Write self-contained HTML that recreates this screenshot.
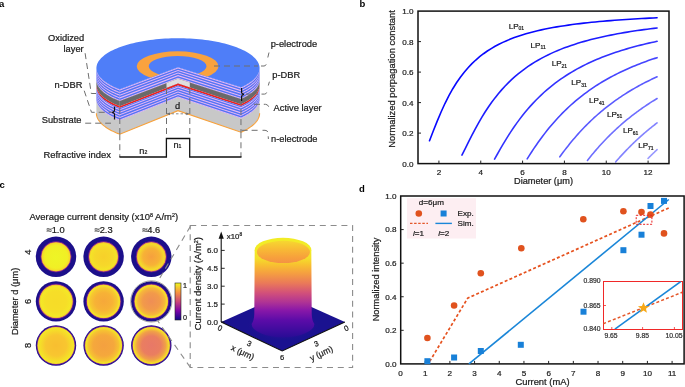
<!DOCTYPE html>
<html><head><meta charset="utf-8"><style>
html,body{margin:0;padding:0;background:#fff;}
body{width:685px;height:387px;overflow:hidden;}
svg{display:block;font-family:"Liberation Sans", sans-serif;will-change:transform;}
</style></head><body>
<svg width="685" height="387" viewBox="0 0 685 387">
<g id="panelA">
<path d="M240.96,87.28 L241.85,86.88 L242.72,86.47 L243.56,86.06 L244.39,85.64 L245.2,85.22 L245.99,84.79 L246.75,84.36 L247.5,83.92 L248.23,83.48 L248.93,83.03 L249.62,82.58 L250.28,82.12 L250.92,81.66 L251.54,81.2 L252.14,80.73 L252.72,80.26 L253.27,79.78 L253.8,79.3 L254.31,78.82 L254.8,78.34 L255.26,77.85 L255.7,77.36 L256.12,76.86 L256.52,76.37 L256.89,75.87 L257.24,75.37 L257.56,74.87 L257.86,74.36 L258.14,73.85 L258.39,73.34 L258.62,72.83 L258.83,72.32 L259.01,71.81 L259.16,71.3 L259.3,70.78 L259.41,70.27 L259.49,69.75 L259.55,69.23 L259.59,68.72 L259.6,68.2 L259.6,80 L259.59,80.52 L259.55,81.03 L259.49,81.55 L259.41,82.07 L259.3,82.58 L259.16,83.1 L259.01,83.61 L258.83,84.12 L258.62,84.63 L258.39,85.14 L258.14,85.65 L257.86,86.16 L257.56,86.67 L257.24,87.17 L256.89,87.67 L256.52,88.17 L256.12,88.66 L255.7,89.16 L255.26,89.65 L254.8,90.14 L254.31,90.62 L253.8,91.1 L253.27,91.58 L252.72,92.06 L252.14,92.53 L251.54,93 L250.92,93.46 L250.28,93.92 L249.62,94.38 L248.93,94.83 L248.23,95.28 L247.5,95.72 L246.75,96.16 L245.99,96.59 L245.2,97.02 L244.39,97.44 L243.56,97.86 L242.72,98.27 L241.85,98.68 L240.96,99.08 Z" fill="#5275f4"/>
<path d="M240.96,87.48 L241.85,87.08 L242.72,86.67 L243.56,86.26 L244.39,85.84 L245.2,85.42 L245.99,84.99 L246.75,84.56 L247.5,84.12 L248.23,83.68 L248.93,83.23 L249.62,82.78 L250.28,82.32 L250.92,81.86 L251.54,81.4 L252.14,80.93 L252.72,80.46 L253.27,79.98 L253.8,79.5 L254.31,79.02 L254.8,78.54 L255.26,78.05 L255.7,77.56 L256.12,77.06 L256.52,76.57 L256.89,76.07 L257.24,75.57 L257.56,75.07 L257.86,74.56 L258.14,74.05 L258.39,73.54 L258.62,73.03 L258.83,72.52 L259.01,72.01 L259.16,71.5 L259.3,70.98 L259.41,70.47 L259.49,69.95 L259.55,69.43 L259.59,68.92 L259.6,68.4 L259.6,69.45 L259.59,69.97 L259.55,70.48 L259.49,71 L259.41,71.52 L259.3,72.03 L259.16,72.55 L259.01,73.06 L258.83,73.57 L258.62,74.08 L258.39,74.59 L258.14,75.1 L257.86,75.61 L257.56,76.12 L257.24,76.62 L256.89,77.12 L256.52,77.62 L256.12,78.11 L255.7,78.61 L255.26,79.1 L254.8,79.59 L254.31,80.07 L253.8,80.55 L253.27,81.03 L252.72,81.51 L252.14,81.98 L251.54,82.45 L250.92,82.91 L250.28,83.37 L249.62,83.83 L248.93,84.28 L248.23,84.73 L247.5,85.17 L246.75,85.61 L245.99,86.04 L245.2,86.47 L244.39,86.89 L243.56,87.31 L242.72,87.72 L241.85,88.13 L240.96,88.53 Z" fill="#ecb8f4"/>
<path d="M240.96,90.12 L241.85,89.72 L242.72,89.31 L243.56,88.9 L244.39,88.48 L245.2,88.06 L245.99,87.63 L246.75,87.2 L247.5,86.76 L248.23,86.31 L248.93,85.87 L249.62,85.42 L250.28,84.96 L250.92,84.5 L251.54,84.04 L252.14,83.57 L252.72,83.1 L253.27,82.62 L253.8,82.14 L254.31,81.66 L254.8,81.18 L255.26,80.69 L255.7,80.2 L256.12,79.7 L256.52,79.21 L256.89,78.71 L257.24,78.21 L257.56,77.7 L257.86,77.2 L258.14,76.69 L258.39,76.18 L258.62,75.67 L258.83,75.16 L259.01,74.65 L259.16,74.13 L259.3,73.62 L259.41,73.1 L259.49,72.59 L259.55,72.07 L259.59,71.55 L259.6,71.04 L259.6,72.09 L259.59,72.6 L259.55,73.12 L259.49,73.64 L259.41,74.15 L259.3,74.67 L259.16,75.18 L259.01,75.7 L258.83,76.21 L258.62,76.72 L258.39,77.23 L258.14,77.74 L257.86,78.25 L257.56,78.75 L257.24,79.26 L256.89,79.76 L256.52,80.26 L256.12,80.75 L255.7,81.25 L255.26,81.74 L254.8,82.23 L254.31,82.71 L253.8,83.19 L253.27,83.67 L252.72,84.15 L252.14,84.62 L251.54,85.09 L250.92,85.55 L250.28,86.01 L249.62,86.47 L248.93,86.92 L248.23,87.36 L247.5,87.81 L246.75,88.25 L245.99,88.68 L245.2,89.11 L244.39,89.53 L243.56,89.95 L242.72,90.36 L241.85,90.77 L240.96,91.17 Z" fill="#ecb8f4"/>
<path d="M240.96,92.76 L241.85,92.36 L242.72,91.95 L243.56,91.54 L244.39,91.12 L245.2,90.69 L245.99,90.27 L246.75,89.83 L247.5,89.39 L248.23,88.95 L248.93,88.5 L249.62,88.05 L250.28,87.6 L250.92,87.14 L251.54,86.67 L252.14,86.21 L252.72,85.73 L253.27,85.26 L253.8,84.78 L254.31,84.3 L254.8,83.81 L255.26,83.32 L255.7,82.83 L256.12,82.34 L256.52,81.84 L256.89,81.34 L257.24,80.84 L257.56,80.34 L257.86,79.84 L258.14,79.33 L258.39,78.82 L258.62,78.31 L258.83,77.8 L259.01,77.29 L259.16,76.77 L259.3,76.26 L259.41,75.74 L259.49,75.23 L259.55,74.71 L259.59,74.19 L259.6,73.67 L259.6,74.73 L259.59,75.24 L259.55,75.76 L259.49,76.28 L259.41,76.79 L259.3,77.31 L259.16,77.82 L259.01,78.34 L258.83,78.85 L258.62,79.36 L258.39,79.87 L258.14,80.38 L257.86,80.89 L257.56,81.39 L257.24,81.89 L256.89,82.39 L256.52,82.89 L256.12,83.39 L255.7,83.88 L255.26,84.37 L254.8,84.86 L254.31,85.35 L253.8,85.83 L253.27,86.31 L252.72,86.78 L252.14,87.26 L251.54,87.72 L250.92,88.19 L250.28,88.65 L249.62,89.1 L248.93,89.55 L248.23,90 L247.5,90.44 L246.75,90.88 L245.99,91.32 L245.2,91.74 L244.39,92.17 L243.56,92.59 L242.72,93 L241.85,93.41 L240.96,93.81 Z" fill="#ecb8f4"/>
<path d="M240.96,95.39 L241.85,94.99 L242.72,94.59 L243.56,94.17 L244.39,93.75 L245.2,93.33 L245.99,92.9 L246.75,92.47 L247.5,92.03 L248.23,91.59 L248.93,91.14 L249.62,90.69 L250.28,90.23 L250.92,89.77 L251.54,89.31 L252.14,88.84 L252.72,88.37 L253.27,87.9 L253.8,87.42 L254.31,86.94 L254.8,86.45 L255.26,85.96 L255.7,85.47 L256.12,84.98 L256.52,84.48 L256.89,83.98 L257.24,83.48 L257.56,82.98 L257.86,82.47 L258.14,81.97 L258.39,81.46 L258.62,80.95 L258.83,80.44 L259.01,79.92 L259.16,79.41 L259.3,78.89 L259.41,78.38 L259.49,77.86 L259.55,77.35 L259.59,76.83 L259.6,76.31 L259.6,77.36 L259.59,77.88 L259.55,78.4 L259.49,78.91 L259.41,79.43 L259.3,79.94 L259.16,80.46 L259.01,80.97 L258.83,81.49 L258.62,82 L258.39,82.51 L258.14,83.02 L257.86,83.52 L257.56,84.03 L257.24,84.53 L256.89,85.03 L256.52,85.53 L256.12,86.03 L255.7,86.52 L255.26,87.01 L254.8,87.5 L254.31,87.99 L253.8,88.47 L253.27,88.95 L252.72,89.42 L252.14,89.89 L251.54,90.36 L250.92,90.82 L250.28,91.28 L249.62,91.74 L248.93,92.19 L248.23,92.64 L247.5,93.08 L246.75,93.52 L245.99,93.95 L245.2,94.38 L244.39,94.8 L243.56,95.22 L242.72,95.64 L241.85,96.04 L240.96,96.44 Z" fill="#ecb8f4"/>
<path d="M240.96,98.03 L241.85,97.63 L242.72,97.22 L243.56,96.81 L244.39,96.39 L245.2,95.97 L245.99,95.54 L246.75,95.11 L247.5,94.67 L248.23,94.23 L248.93,93.78 L249.62,93.33 L250.28,92.87 L250.92,92.41 L251.54,91.95 L252.14,91.48 L252.72,91.01 L253.27,90.53 L253.8,90.05 L254.31,89.57 L254.8,89.09 L255.26,88.6 L255.7,88.11 L256.12,87.61 L256.52,87.12 L256.89,86.62 L257.24,86.12 L257.56,85.62 L257.86,85.11 L258.14,84.6 L258.39,84.09 L258.62,83.58 L258.83,83.07 L259.01,82.56 L259.16,82.05 L259.3,81.53 L259.41,81.02 L259.49,80.5 L259.55,79.98 L259.59,79.47 L259.6,78.95 L259.6,80 L259.59,80.52 L259.55,81.03 L259.49,81.55 L259.41,82.07 L259.3,82.58 L259.16,83.1 L259.01,83.61 L258.83,84.12 L258.62,84.63 L258.39,85.14 L258.14,85.65 L257.86,86.16 L257.56,86.67 L257.24,87.17 L256.89,87.67 L256.52,88.17 L256.12,88.66 L255.7,89.16 L255.26,89.65 L254.8,90.14 L254.31,90.62 L253.8,91.1 L253.27,91.58 L252.72,92.06 L252.14,92.53 L251.54,93 L250.92,93.46 L250.28,93.92 L249.62,94.38 L248.93,94.83 L248.23,95.28 L247.5,95.72 L246.75,96.16 L245.99,96.59 L245.2,97.02 L244.39,97.44 L243.56,97.86 L242.72,98.27 L241.85,98.68 L240.96,99.08 Z" fill="#ecb8f4"/>
<path d="M240.96,99.08 L241.85,98.68 L242.72,98.27 L243.56,97.86 L244.39,97.44 L245.2,97.02 L245.99,96.59 L246.75,96.16 L247.5,95.72 L248.23,95.28 L248.93,94.83 L249.62,94.38 L250.28,93.92 L250.92,93.46 L251.54,93 L252.14,92.53 L252.72,92.06 L253.27,91.58 L253.8,91.1 L254.31,90.62 L254.8,90.14 L255.26,89.65 L255.7,89.16 L256.12,88.66 L256.52,88.17 L256.89,87.67 L257.24,87.17 L257.56,86.67 L257.86,86.16 L258.14,85.65 L258.39,85.14 L258.62,84.63 L258.83,84.12 L259.01,83.61 L259.16,83.1 L259.3,82.58 L259.41,82.07 L259.49,81.55 L259.55,81.03 L259.59,80.52 L259.6,80 L259.6,85.1 L259.59,85.62 L259.55,86.13 L259.49,86.65 L259.41,87.17 L259.3,87.68 L259.16,88.2 L259.01,88.71 L258.83,89.22 L258.62,89.73 L258.39,90.24 L258.14,90.75 L257.86,91.26 L257.56,91.77 L257.24,92.27 L256.89,92.77 L256.52,93.27 L256.12,93.76 L255.7,94.26 L255.26,94.75 L254.8,95.24 L254.31,95.72 L253.8,96.2 L253.27,96.68 L252.72,97.16 L252.14,97.63 L251.54,98.1 L250.92,98.56 L250.28,99.02 L249.62,99.48 L248.93,99.93 L248.23,100.38 L247.5,100.82 L246.75,101.26 L245.99,101.69 L245.2,102.12 L244.39,102.54 L243.56,102.96 L242.72,103.37 L241.85,103.78 L240.96,104.18 Z" fill="#6a6a6a"/>
<path d="M240.96,104.18 L241.85,103.78 L242.72,103.37 L243.56,102.96 L244.39,102.54 L245.2,102.12 L245.99,101.69 L246.75,101.26 L247.5,100.82 L248.23,100.38 L248.93,99.93 L249.62,99.48 L250.28,99.02 L250.92,98.56 L251.54,98.1 L252.14,97.63 L252.72,97.16 L253.27,96.68 L253.8,96.2 L254.31,95.72 L254.8,95.24 L255.26,94.75 L255.7,94.26 L256.12,93.76 L256.52,93.27 L256.89,92.77 L257.24,92.27 L257.56,91.77 L257.86,91.26 L258.14,90.75 L258.39,90.24 L258.62,89.73 L258.83,89.22 L259.01,88.71 L259.16,88.2 L259.3,87.68 L259.41,87.17 L259.49,86.65 L259.55,86.13 L259.59,85.62 L259.6,85.1 L259.6,87 L259.59,87.52 L259.55,88.03 L259.49,88.55 L259.41,89.07 L259.3,89.58 L259.16,90.1 L259.01,90.61 L258.83,91.12 L258.62,91.63 L258.39,92.14 L258.14,92.65 L257.86,93.16 L257.56,93.67 L257.24,94.17 L256.89,94.67 L256.52,95.17 L256.12,95.66 L255.7,96.16 L255.26,96.65 L254.8,97.14 L254.31,97.62 L253.8,98.1 L253.27,98.58 L252.72,99.06 L252.14,99.53 L251.54,100 L250.92,100.46 L250.28,100.92 L249.62,101.38 L248.93,101.83 L248.23,102.28 L247.5,102.72 L246.75,103.16 L245.99,103.59 L245.2,104.02 L244.39,104.44 L243.56,104.86 L242.72,105.27 L241.85,105.68 L240.96,106.08 Z" fill="#e82222"/>
<path d="M240.96,106.08 L241.85,105.68 L242.72,105.27 L243.56,104.86 L244.39,104.44 L245.2,104.02 L245.99,103.59 L246.75,103.16 L247.5,102.72 L248.23,102.28 L248.93,101.83 L249.62,101.38 L250.28,100.92 L250.92,100.46 L251.54,100 L252.14,99.53 L252.72,99.06 L253.27,98.58 L253.8,98.1 L254.31,97.62 L254.8,97.14 L255.26,96.65 L255.7,96.16 L256.12,95.66 L256.52,95.17 L256.89,94.67 L257.24,94.17 L257.56,93.67 L257.86,93.16 L258.14,92.65 L258.39,92.14 L258.62,91.63 L258.83,91.12 L259.01,90.61 L259.16,90.1 L259.3,89.58 L259.41,89.07 L259.49,88.55 L259.55,88.03 L259.59,87.52 L259.6,87 L259.6,99.5 L259.59,100.02 L259.55,100.53 L259.49,101.05 L259.41,101.57 L259.3,102.08 L259.16,102.6 L259.01,103.11 L258.83,103.62 L258.62,104.13 L258.39,104.64 L258.14,105.15 L257.86,105.66 L257.56,106.17 L257.24,106.67 L256.89,107.17 L256.52,107.67 L256.12,108.16 L255.7,108.66 L255.26,109.15 L254.8,109.64 L254.31,110.12 L253.8,110.6 L253.27,111.08 L252.72,111.56 L252.14,112.03 L251.54,112.5 L250.92,112.96 L250.28,113.42 L249.62,113.88 L248.93,114.33 L248.23,114.78 L247.5,115.22 L246.75,115.66 L245.99,116.09 L245.2,116.52 L244.39,116.94 L243.56,117.36 L242.72,117.77 L241.85,118.18 L240.96,118.58 Z" fill="#5275f4"/>
<path d="M240.96,107.18 L241.85,106.78 L242.72,106.37 L243.56,105.96 L244.39,105.54 L245.2,105.12 L245.99,104.69 L246.75,104.26 L247.5,103.82 L248.23,103.38 L248.93,102.93 L249.62,102.48 L250.28,102.02 L250.92,101.56 L251.54,101.1 L252.14,100.63 L252.72,100.16 L253.27,99.68 L253.8,99.2 L254.31,98.72 L254.8,98.24 L255.26,97.75 L255.7,97.26 L256.12,96.76 L256.52,96.27 L256.89,95.77 L257.24,95.27 L257.56,94.77 L257.86,94.26 L258.14,93.75 L258.39,93.24 L258.62,92.73 L258.83,92.22 L259.01,91.71 L259.16,91.2 L259.3,90.68 L259.41,90.17 L259.49,89.65 L259.55,89.13 L259.59,88.62 L259.6,88.1 L259.6,89.15 L259.59,89.67 L259.55,90.18 L259.49,90.7 L259.41,91.22 L259.3,91.73 L259.16,92.25 L259.01,92.76 L258.83,93.27 L258.62,93.78 L258.39,94.29 L258.14,94.8 L257.86,95.31 L257.56,95.82 L257.24,96.32 L256.89,96.82 L256.52,97.32 L256.12,97.81 L255.7,98.31 L255.26,98.8 L254.8,99.29 L254.31,99.77 L253.8,100.25 L253.27,100.73 L252.72,101.21 L252.14,101.68 L251.54,102.15 L250.92,102.61 L250.28,103.07 L249.62,103.53 L248.93,103.98 L248.23,104.43 L247.5,104.87 L246.75,105.31 L245.99,105.74 L245.2,106.17 L244.39,106.59 L243.56,107.01 L242.72,107.42 L241.85,107.83 L240.96,108.23 Z" fill="#ecb8f4"/>
<path d="M240.96,109.77 L241.85,109.37 L242.72,108.96 L243.56,108.55 L244.39,108.13 L245.2,107.71 L245.99,107.28 L246.75,106.85 L247.5,106.41 L248.23,105.96 L248.93,105.52 L249.62,105.07 L250.28,104.61 L250.92,104.15 L251.54,103.69 L252.14,103.22 L252.72,102.75 L253.27,102.27 L253.8,101.79 L254.31,101.31 L254.8,100.83 L255.26,100.34 L255.7,99.85 L256.12,99.35 L256.52,98.86 L256.89,98.36 L257.24,97.86 L257.56,97.35 L257.86,96.85 L258.14,96.34 L258.39,95.83 L258.62,95.32 L258.83,94.81 L259.01,94.3 L259.16,93.78 L259.3,93.27 L259.41,92.75 L259.49,92.24 L259.55,91.72 L259.59,91.2 L259.6,90.69 L259.6,91.74 L259.59,92.25 L259.55,92.77 L259.49,93.29 L259.41,93.8 L259.3,94.32 L259.16,94.83 L259.01,95.35 L258.83,95.86 L258.62,96.37 L258.39,96.88 L258.14,97.39 L257.86,97.9 L257.56,98.4 L257.24,98.91 L256.89,99.41 L256.52,99.91 L256.12,100.4 L255.7,100.9 L255.26,101.39 L254.8,101.88 L254.31,102.36 L253.8,102.84 L253.27,103.32 L252.72,103.8 L252.14,104.27 L251.54,104.74 L250.92,105.2 L250.28,105.66 L249.62,106.12 L248.93,106.57 L248.23,107.01 L247.5,107.46 L246.75,107.9 L245.99,108.33 L245.2,108.76 L244.39,109.18 L243.56,109.6 L242.72,110.01 L241.85,110.42 L240.96,110.82 Z" fill="#ecb8f4"/>
<path d="M240.96,112.36 L241.85,111.96 L242.72,111.55 L243.56,111.14 L244.39,110.72 L245.2,110.29 L245.99,109.87 L246.75,109.43 L247.5,108.99 L248.23,108.55 L248.93,108.1 L249.62,107.65 L250.28,107.2 L250.92,106.74 L251.54,106.27 L252.14,105.81 L252.72,105.33 L253.27,104.86 L253.8,104.38 L254.31,103.9 L254.8,103.41 L255.26,102.92 L255.7,102.43 L256.12,101.94 L256.52,101.44 L256.89,100.94 L257.24,100.44 L257.56,99.94 L257.86,99.44 L258.14,98.93 L258.39,98.42 L258.62,97.91 L258.83,97.4 L259.01,96.89 L259.16,96.37 L259.3,95.86 L259.41,95.34 L259.49,94.83 L259.55,94.31 L259.59,93.79 L259.6,93.28 L259.6,94.33 L259.59,94.84 L259.55,95.36 L259.49,95.88 L259.41,96.39 L259.3,96.91 L259.16,97.42 L259.01,97.94 L258.83,98.45 L258.62,98.96 L258.39,99.47 L258.14,99.98 L257.86,100.49 L257.56,100.99 L257.24,101.49 L256.89,101.99 L256.52,102.49 L256.12,102.99 L255.7,103.48 L255.26,103.97 L254.8,104.46 L254.31,104.95 L253.8,105.43 L253.27,105.91 L252.72,106.38 L252.14,106.86 L251.54,107.32 L250.92,107.79 L250.28,108.25 L249.62,108.7 L248.93,109.15 L248.23,109.6 L247.5,110.04 L246.75,110.48 L245.99,110.92 L245.2,111.34 L244.39,111.77 L243.56,112.19 L242.72,112.6 L241.85,113.01 L240.96,113.41 Z" fill="#ecb8f4"/>
<path d="M240.96,114.94 L241.85,114.54 L242.72,114.14 L243.56,113.72 L244.39,113.3 L245.2,112.88 L245.99,112.45 L246.75,112.02 L247.5,111.58 L248.23,111.14 L248.93,110.69 L249.62,110.24 L250.28,109.78 L250.92,109.32 L251.54,108.86 L252.14,108.39 L252.72,107.92 L253.27,107.45 L253.8,106.97 L254.31,106.49 L254.8,106 L255.26,105.51 L255.7,105.02 L256.12,104.53 L256.52,104.03 L256.89,103.53 L257.24,103.03 L257.56,102.53 L257.86,102.02 L258.14,101.52 L258.39,101.01 L258.62,100.5 L258.83,99.99 L259.01,99.47 L259.16,98.96 L259.3,98.44 L259.41,97.93 L259.49,97.41 L259.55,96.9 L259.59,96.38 L259.6,95.86 L259.6,96.91 L259.59,97.43 L259.55,97.95 L259.49,98.46 L259.41,98.98 L259.3,99.49 L259.16,100.01 L259.01,100.52 L258.83,101.04 L258.62,101.55 L258.39,102.06 L258.14,102.57 L257.86,103.07 L257.56,103.58 L257.24,104.08 L256.89,104.58 L256.52,105.08 L256.12,105.58 L255.7,106.07 L255.26,106.56 L254.8,107.05 L254.31,107.54 L253.8,108.02 L253.27,108.5 L252.72,108.97 L252.14,109.44 L251.54,109.91 L250.92,110.37 L250.28,110.83 L249.62,111.29 L248.93,111.74 L248.23,112.19 L247.5,112.63 L246.75,113.07 L245.99,113.5 L245.2,113.93 L244.39,114.35 L243.56,114.77 L242.72,115.19 L241.85,115.59 L240.96,115.99 Z" fill="#ecb8f4"/>
<path d="M240.96,117.53 L241.85,117.13 L242.72,116.72 L243.56,116.31 L244.39,115.89 L245.2,115.47 L245.99,115.04 L246.75,114.61 L247.5,114.17 L248.23,113.73 L248.93,113.28 L249.62,112.83 L250.28,112.37 L250.92,111.91 L251.54,111.45 L252.14,110.98 L252.72,110.51 L253.27,110.03 L253.8,109.55 L254.31,109.07 L254.8,108.59 L255.26,108.1 L255.7,107.61 L256.12,107.11 L256.52,106.62 L256.89,106.12 L257.24,105.62 L257.56,105.12 L257.86,104.61 L258.14,104.1 L258.39,103.59 L258.62,103.08 L258.83,102.57 L259.01,102.06 L259.16,101.55 L259.3,101.03 L259.41,100.52 L259.49,100 L259.55,99.48 L259.59,98.97 L259.6,98.45 L259.6,99.5 L259.59,100.02 L259.55,100.53 L259.49,101.05 L259.41,101.57 L259.3,102.08 L259.16,102.6 L259.01,103.11 L258.83,103.62 L258.62,104.13 L258.39,104.64 L258.14,105.15 L257.86,105.66 L257.56,106.17 L257.24,106.67 L256.89,107.17 L256.52,107.67 L256.12,108.16 L255.7,108.66 L255.26,109.15 L254.8,109.64 L254.31,110.12 L253.8,110.6 L253.27,111.08 L252.72,111.56 L252.14,112.03 L251.54,112.5 L250.92,112.96 L250.28,113.42 L249.62,113.88 L248.93,114.33 L248.23,114.78 L247.5,115.22 L246.75,115.66 L245.99,116.09 L245.2,116.52 L244.39,116.94 L243.56,117.36 L242.72,117.77 L241.85,118.18 L240.96,118.58 Z" fill="#ecb8f4"/>
<path d="M240.96,118.58 L241.85,118.18 L242.72,117.77 L243.56,117.36 L244.39,116.94 L245.2,116.52 L245.99,116.09 L246.75,115.66 L247.5,115.22 L248.23,114.78 L248.93,114.33 L249.62,113.88 L250.28,113.42 L250.92,112.96 L251.54,112.5 L252.14,112.03 L252.72,111.56 L253.27,111.08 L253.8,110.6 L254.31,110.12 L254.8,109.64 L255.26,109.15 L255.7,108.66 L256.12,108.16 L256.52,107.67 L256.89,107.17 L257.24,106.67 L257.56,106.17 L257.86,105.66 L258.14,105.15 L258.39,104.64 L258.62,104.13 L258.83,103.62 L259.01,103.11 L259.16,102.6 L259.3,102.08 L259.41,101.57 L259.49,101.05 L259.55,100.53 L259.59,100.02 L259.6,99.5 L259.6,113.2 L259.59,113.72 L259.55,114.23 L259.49,114.75 L259.41,115.27 L259.3,115.78 L259.16,116.3 L259.01,116.81 L258.83,117.32 L258.62,117.83 L258.39,118.34 L258.14,118.85 L257.86,119.36 L257.56,119.87 L257.24,120.37 L256.89,120.87 L256.52,121.37 L256.12,121.86 L255.7,122.36 L255.26,122.85 L254.8,123.34 L254.31,123.82 L253.8,124.3 L253.27,124.78 L252.72,125.26 L252.14,125.73 L251.54,126.2 L250.92,126.66 L250.28,127.12 L249.62,127.58 L248.93,128.03 L248.23,128.48 L247.5,128.92 L246.75,129.36 L245.99,129.79 L245.2,130.22 L244.39,130.64 L243.56,131.06 L242.72,131.47 L241.85,131.88 L240.96,132.28 Z" fill="#c8c8c8"/>
<path d="M96.4,68.2 L96.42,68.78 L96.46,69.36 L96.54,69.95 L96.65,70.53 L96.78,71.11 L96.95,71.69 L97.15,72.26 L97.38,72.84 L97.64,73.42 L97.93,73.99 L98.25,74.56 L98.61,75.13 L98.99,75.69 L99.4,76.25 L99.84,76.81 L100.31,77.37 L100.81,77.92 L101.33,78.47 L101.89,79.02 L102.48,79.56 L103.09,80.1 L103.73,80.63 L104.4,81.16 L105.1,81.68 L105.83,82.2 L106.58,82.71 L107.36,83.22 L108.17,83.72 L109,84.21 L109.86,84.7 L110.74,85.19 L111.65,85.66 L112.59,86.13 L113.55,86.6 L114.53,87.05 L115.54,87.5 L116.57,87.95 L117.62,88.38 L118.7,88.81 L119.8,89.23 L119.8,101.03 L118.7,100.61 L117.62,100.18 L116.57,99.75 L115.54,99.3 L114.53,98.85 L113.55,98.4 L112.59,97.93 L111.65,97.46 L110.74,96.99 L109.86,96.5 L109,96.01 L108.17,95.52 L107.36,95.02 L106.58,94.51 L105.83,94 L105.1,93.48 L104.4,92.96 L103.73,92.43 L103.09,91.9 L102.48,91.36 L101.89,90.82 L101.33,90.27 L100.81,89.72 L100.31,89.17 L99.84,88.61 L99.4,88.05 L98.99,87.49 L98.61,86.93 L98.25,86.36 L97.93,85.79 L97.64,85.22 L97.38,84.64 L97.15,84.06 L96.95,83.49 L96.78,82.91 L96.65,82.33 L96.54,81.75 L96.46,81.16 L96.42,80.58 L96.4,80 Z" fill="#5275f4"/>
<path d="M96.4,68.4 L96.42,68.98 L96.46,69.56 L96.54,70.15 L96.65,70.73 L96.78,71.31 L96.95,71.89 L97.15,72.46 L97.38,73.04 L97.64,73.62 L97.93,74.19 L98.25,74.76 L98.61,75.33 L98.99,75.89 L99.4,76.45 L99.84,77.01 L100.31,77.57 L100.81,78.12 L101.33,78.67 L101.89,79.22 L102.48,79.76 L103.09,80.3 L103.73,80.83 L104.4,81.36 L105.1,81.88 L105.83,82.4 L106.58,82.91 L107.36,83.42 L108.17,83.92 L109,84.41 L109.86,84.9 L110.74,85.39 L111.65,85.86 L112.59,86.33 L113.55,86.8 L114.53,87.25 L115.54,87.7 L116.57,88.15 L117.62,88.58 L118.7,89.01 L119.8,89.43 L119.8,90.48 L118.7,90.06 L117.62,89.63 L116.57,89.2 L115.54,88.75 L114.53,88.3 L113.55,87.85 L112.59,87.38 L111.65,86.91 L110.74,86.44 L109.86,85.95 L109,85.46 L108.17,84.97 L107.36,84.47 L106.58,83.96 L105.83,83.45 L105.1,82.93 L104.4,82.41 L103.73,81.88 L103.09,81.35 L102.48,80.81 L101.89,80.27 L101.33,79.72 L100.81,79.17 L100.31,78.62 L99.84,78.06 L99.4,77.5 L98.99,76.94 L98.61,76.38 L98.25,75.81 L97.93,75.24 L97.64,74.67 L97.38,74.09 L97.15,73.51 L96.95,72.94 L96.78,72.36 L96.65,71.78 L96.54,71.2 L96.46,70.61 L96.42,70.03 L96.4,69.45 Z" fill="#ecb8f4"/>
<path d="M96.4,71.04 L96.42,71.62 L96.46,72.2 L96.54,72.78 L96.65,73.37 L96.78,73.95 L96.95,74.52 L97.15,75.1 L97.38,75.68 L97.64,76.25 L97.93,76.83 L98.25,77.4 L98.61,77.96 L98.99,78.53 L99.4,79.09 L99.84,79.65 L100.31,80.21 L100.81,80.76 L101.33,81.31 L101.89,81.86 L102.48,82.4 L103.09,82.93 L103.73,83.47 L104.4,83.99 L105.1,84.52 L105.83,85.03 L106.58,85.55 L107.36,86.05 L108.17,86.56 L109,87.05 L109.86,87.54 L110.74,88.02 L111.65,88.5 L112.59,88.97 L113.55,89.44 L114.53,89.89 L115.54,90.34 L116.57,90.78 L117.62,91.22 L118.7,91.65 L119.8,92.06 L119.8,93.11 L118.7,92.7 L117.62,92.27 L116.57,91.83 L115.54,91.39 L114.53,90.94 L113.55,90.49 L112.59,90.02 L111.65,89.55 L110.74,89.07 L109.86,88.59 L109,88.1 L108.17,87.61 L107.36,87.1 L106.58,86.6 L105.83,86.08 L105.1,85.57 L104.4,85.04 L103.73,84.52 L103.09,83.98 L102.48,83.45 L101.89,82.91 L101.33,82.36 L100.81,81.81 L100.31,81.26 L99.84,80.7 L99.4,80.14 L98.99,79.58 L98.61,79.01 L98.25,78.45 L97.93,77.88 L97.64,77.3 L97.38,76.73 L97.15,76.15 L96.95,75.57 L96.78,75 L96.65,74.42 L96.54,73.83 L96.46,73.25 L96.42,72.67 L96.4,72.09 Z" fill="#ecb8f4"/>
<path d="M96.4,73.67 L96.42,74.26 L96.46,74.84 L96.54,75.42 L96.65,76 L96.78,76.58 L96.95,77.16 L97.15,77.74 L97.38,78.32 L97.64,78.89 L97.93,79.46 L98.25,80.03 L98.61,80.6 L98.99,81.17 L99.4,81.73 L99.84,82.29 L100.31,82.85 L100.81,83.4 L101.33,83.95 L101.89,84.49 L102.48,85.03 L103.09,85.57 L103.73,86.1 L104.4,86.63 L105.1,87.15 L105.83,87.67 L106.58,88.18 L107.36,88.69 L108.17,89.19 L109,89.69 L109.86,90.18 L110.74,90.66 L111.65,91.14 L112.59,91.61 L113.55,92.07 L114.53,92.53 L115.54,92.98 L116.57,93.42 L117.62,93.86 L118.7,94.28 L119.8,94.7 L119.8,95.75 L118.7,95.33 L117.62,94.91 L116.57,94.47 L115.54,94.03 L114.53,93.58 L113.55,93.12 L112.59,92.66 L111.65,92.19 L110.74,91.71 L109.86,91.23 L109,90.74 L108.17,90.24 L107.36,89.74 L106.58,89.23 L105.83,88.72 L105.1,88.2 L104.4,87.68 L103.73,87.15 L103.09,86.62 L102.48,86.08 L101.89,85.54 L101.33,85 L100.81,84.45 L100.31,83.9 L99.84,83.34 L99.4,82.78 L98.99,82.22 L98.61,81.65 L98.25,81.08 L97.93,80.51 L97.64,79.94 L97.38,79.37 L97.15,78.79 L96.95,78.21 L96.78,77.63 L96.65,77.05 L96.54,76.47 L96.46,75.89 L96.42,75.31 L96.4,74.73 Z" fill="#ecb8f4"/>
<path d="M96.4,76.31 L96.42,76.89 L96.46,77.48 L96.54,78.06 L96.65,78.64 L96.78,79.22 L96.95,79.8 L97.15,80.38 L97.38,80.95 L97.64,81.53 L97.93,82.1 L98.25,82.67 L98.61,83.24 L98.99,83.8 L99.4,84.37 L99.84,84.93 L100.31,85.48 L100.81,86.04 L101.33,86.59 L101.89,87.13 L102.48,87.67 L103.09,88.21 L103.73,88.74 L104.4,89.27 L105.1,89.79 L105.83,90.31 L106.58,90.82 L107.36,91.33 L108.17,91.83 L109,92.33 L109.86,92.82 L110.74,93.3 L111.65,93.78 L112.59,94.25 L113.55,94.71 L114.53,95.17 L115.54,95.62 L116.57,96.06 L117.62,96.49 L118.7,96.92 L119.8,97.34 L119.8,98.39 L118.7,97.97 L117.62,97.54 L116.57,97.11 L115.54,96.67 L114.53,96.22 L113.55,95.76 L112.59,95.3 L111.65,94.83 L110.74,94.35 L109.86,93.87 L109,93.38 L108.17,92.88 L107.36,92.38 L106.58,91.87 L105.83,91.36 L105.1,90.84 L104.4,90.32 L103.73,89.79 L103.09,89.26 L102.48,88.72 L101.89,88.18 L101.33,87.64 L100.81,87.09 L100.31,86.53 L99.84,85.98 L99.4,85.42 L98.99,84.85 L98.61,84.29 L98.25,83.72 L97.93,83.15 L97.64,82.58 L97.38,82 L97.15,81.43 L96.95,80.85 L96.78,80.27 L96.65,79.69 L96.54,79.11 L96.46,78.53 L96.42,77.94 L96.4,77.36 Z" fill="#ecb8f4"/>
<path d="M96.4,78.95 L96.42,79.53 L96.46,80.11 L96.54,80.7 L96.65,81.28 L96.78,81.86 L96.95,82.44 L97.15,83.01 L97.38,83.59 L97.64,84.17 L97.93,84.74 L98.25,85.31 L98.61,85.88 L98.99,86.44 L99.4,87 L99.84,87.56 L100.31,88.12 L100.81,88.67 L101.33,89.22 L101.89,89.77 L102.48,90.31 L103.09,90.85 L103.73,91.38 L104.4,91.91 L105.1,92.43 L105.83,92.95 L106.58,93.46 L107.36,93.97 L108.17,94.47 L109,94.96 L109.86,95.45 L110.74,95.94 L111.65,96.41 L112.59,96.88 L113.55,97.35 L114.53,97.8 L115.54,98.25 L116.57,98.7 L117.62,99.13 L118.7,99.56 L119.8,99.98 L119.8,101.03 L118.7,100.61 L117.62,100.18 L116.57,99.75 L115.54,99.3 L114.53,98.85 L113.55,98.4 L112.59,97.93 L111.65,97.46 L110.74,96.99 L109.86,96.5 L109,96.01 L108.17,95.52 L107.36,95.02 L106.58,94.51 L105.83,94 L105.1,93.48 L104.4,92.96 L103.73,92.43 L103.09,91.9 L102.48,91.36 L101.89,90.82 L101.33,90.27 L100.81,89.72 L100.31,89.17 L99.84,88.61 L99.4,88.05 L98.99,87.49 L98.61,86.93 L98.25,86.36 L97.93,85.79 L97.64,85.22 L97.38,84.64 L97.15,84.06 L96.95,83.49 L96.78,82.91 L96.65,82.33 L96.54,81.75 L96.46,81.16 L96.42,80.58 L96.4,80 Z" fill="#ecb8f4"/>
<path d="M96.4,80 L96.42,80.58 L96.46,81.16 L96.54,81.75 L96.65,82.33 L96.78,82.91 L96.95,83.49 L97.15,84.06 L97.38,84.64 L97.64,85.22 L97.93,85.79 L98.25,86.36 L98.61,86.93 L98.99,87.49 L99.4,88.05 L99.84,88.61 L100.31,89.17 L100.81,89.72 L101.33,90.27 L101.89,90.82 L102.48,91.36 L103.09,91.9 L103.73,92.43 L104.4,92.96 L105.1,93.48 L105.83,94 L106.58,94.51 L107.36,95.02 L108.17,95.52 L109,96.01 L109.86,96.5 L110.74,96.99 L111.65,97.46 L112.59,97.93 L113.55,98.4 L114.53,98.85 L115.54,99.3 L116.57,99.75 L117.62,100.18 L118.7,100.61 L119.8,101.03 L119.8,106.13 L118.7,105.71 L117.62,105.28 L116.57,104.85 L115.54,104.4 L114.53,103.95 L113.55,103.5 L112.59,103.03 L111.65,102.56 L110.74,102.09 L109.86,101.6 L109,101.11 L108.17,100.62 L107.36,100.12 L106.58,99.61 L105.83,99.1 L105.1,98.58 L104.4,98.06 L103.73,97.53 L103.09,97 L102.48,96.46 L101.89,95.92 L101.33,95.37 L100.81,94.82 L100.31,94.27 L99.84,93.71 L99.4,93.15 L98.99,92.59 L98.61,92.03 L98.25,91.46 L97.93,90.89 L97.64,90.32 L97.38,89.74 L97.15,89.16 L96.95,88.59 L96.78,88.01 L96.65,87.43 L96.54,86.85 L96.46,86.26 L96.42,85.68 L96.4,85.1 Z" fill="#6a6a6a"/>
<path d="M96.4,85.1 L96.42,85.68 L96.46,86.26 L96.54,86.85 L96.65,87.43 L96.78,88.01 L96.95,88.59 L97.15,89.16 L97.38,89.74 L97.64,90.32 L97.93,90.89 L98.25,91.46 L98.61,92.03 L98.99,92.59 L99.4,93.15 L99.84,93.71 L100.31,94.27 L100.81,94.82 L101.33,95.37 L101.89,95.92 L102.48,96.46 L103.09,97 L103.73,97.53 L104.4,98.06 L105.1,98.58 L105.83,99.1 L106.58,99.61 L107.36,100.12 L108.17,100.62 L109,101.11 L109.86,101.6 L110.74,102.09 L111.65,102.56 L112.59,103.03 L113.55,103.5 L114.53,103.95 L115.54,104.4 L116.57,104.85 L117.62,105.28 L118.7,105.71 L119.8,106.13 L119.8,108.03 L118.7,107.61 L117.62,107.18 L116.57,106.75 L115.54,106.3 L114.53,105.85 L113.55,105.4 L112.59,104.93 L111.65,104.46 L110.74,103.99 L109.86,103.5 L109,103.01 L108.17,102.52 L107.36,102.02 L106.58,101.51 L105.83,101 L105.1,100.48 L104.4,99.96 L103.73,99.43 L103.09,98.9 L102.48,98.36 L101.89,97.82 L101.33,97.27 L100.81,96.72 L100.31,96.17 L99.84,95.61 L99.4,95.05 L98.99,94.49 L98.61,93.93 L98.25,93.36 L97.93,92.79 L97.64,92.22 L97.38,91.64 L97.15,91.06 L96.95,90.49 L96.78,89.91 L96.65,89.33 L96.54,88.75 L96.46,88.16 L96.42,87.58 L96.4,87 Z" fill="#e82222"/>
<path d="M96.4,87 L96.42,87.58 L96.46,88.16 L96.54,88.75 L96.65,89.33 L96.78,89.91 L96.95,90.49 L97.15,91.06 L97.38,91.64 L97.64,92.22 L97.93,92.79 L98.25,93.36 L98.61,93.93 L98.99,94.49 L99.4,95.05 L99.84,95.61 L100.31,96.17 L100.81,96.72 L101.33,97.27 L101.89,97.82 L102.48,98.36 L103.09,98.9 L103.73,99.43 L104.4,99.96 L105.1,100.48 L105.83,101 L106.58,101.51 L107.36,102.02 L108.17,102.52 L109,103.01 L109.86,103.5 L110.74,103.99 L111.65,104.46 L112.59,104.93 L113.55,105.4 L114.53,105.85 L115.54,106.3 L116.57,106.75 L117.62,107.18 L118.7,107.61 L119.8,108.03 L119.8,120.53 L118.7,120.11 L117.62,119.68 L116.57,119.25 L115.54,118.8 L114.53,118.35 L113.55,117.9 L112.59,117.43 L111.65,116.96 L110.74,116.49 L109.86,116 L109,115.51 L108.17,115.02 L107.36,114.52 L106.58,114.01 L105.83,113.5 L105.1,112.98 L104.4,112.46 L103.73,111.93 L103.09,111.4 L102.48,110.86 L101.89,110.32 L101.33,109.77 L100.81,109.22 L100.31,108.67 L99.84,108.11 L99.4,107.55 L98.99,106.99 L98.61,106.43 L98.25,105.86 L97.93,105.29 L97.64,104.72 L97.38,104.14 L97.15,103.56 L96.95,102.99 L96.78,102.41 L96.65,101.83 L96.54,101.25 L96.46,100.66 L96.42,100.08 L96.4,99.5 Z" fill="#5275f4"/>
<path d="M96.4,88.1 L96.42,88.68 L96.46,89.26 L96.54,89.85 L96.65,90.43 L96.78,91.01 L96.95,91.59 L97.15,92.16 L97.38,92.74 L97.64,93.32 L97.93,93.89 L98.25,94.46 L98.61,95.03 L98.99,95.59 L99.4,96.15 L99.84,96.71 L100.31,97.27 L100.81,97.82 L101.33,98.37 L101.89,98.92 L102.48,99.46 L103.09,100 L103.73,100.53 L104.4,101.06 L105.1,101.58 L105.83,102.1 L106.58,102.61 L107.36,103.12 L108.17,103.62 L109,104.11 L109.86,104.6 L110.74,105.09 L111.65,105.56 L112.59,106.03 L113.55,106.5 L114.53,106.95 L115.54,107.4 L116.57,107.85 L117.62,108.28 L118.7,108.71 L119.8,109.13 L119.8,110.18 L118.7,109.76 L117.62,109.33 L116.57,108.9 L115.54,108.45 L114.53,108 L113.55,107.55 L112.59,107.08 L111.65,106.61 L110.74,106.14 L109.86,105.65 L109,105.16 L108.17,104.67 L107.36,104.17 L106.58,103.66 L105.83,103.15 L105.1,102.63 L104.4,102.11 L103.73,101.58 L103.09,101.05 L102.48,100.51 L101.89,99.97 L101.33,99.42 L100.81,98.87 L100.31,98.32 L99.84,97.76 L99.4,97.2 L98.99,96.64 L98.61,96.08 L98.25,95.51 L97.93,94.94 L97.64,94.37 L97.38,93.79 L97.15,93.21 L96.95,92.64 L96.78,92.06 L96.65,91.48 L96.54,90.9 L96.46,90.31 L96.42,89.73 L96.4,89.15 Z" fill="#ecb8f4"/>
<path d="M96.4,90.69 L96.42,91.27 L96.46,91.85 L96.54,92.43 L96.65,93.02 L96.78,93.6 L96.95,94.17 L97.15,94.75 L97.38,95.33 L97.64,95.9 L97.93,96.48 L98.25,97.05 L98.61,97.61 L98.99,98.18 L99.4,98.74 L99.84,99.3 L100.31,99.86 L100.81,100.41 L101.33,100.96 L101.89,101.51 L102.48,102.05 L103.09,102.58 L103.73,103.12 L104.4,103.64 L105.1,104.17 L105.83,104.68 L106.58,105.2 L107.36,105.7 L108.17,106.21 L109,106.7 L109.86,107.19 L110.74,107.67 L111.65,108.15 L112.59,108.62 L113.55,109.09 L114.53,109.54 L115.54,109.99 L116.57,110.43 L117.62,110.87 L118.7,111.3 L119.8,111.71 L119.8,112.76 L118.7,112.35 L117.62,111.92 L116.57,111.48 L115.54,111.04 L114.53,110.59 L113.55,110.14 L112.59,109.67 L111.65,109.2 L110.74,108.72 L109.86,108.24 L109,107.75 L108.17,107.26 L107.36,106.75 L106.58,106.25 L105.83,105.73 L105.1,105.22 L104.4,104.69 L103.73,104.17 L103.09,103.63 L102.48,103.1 L101.89,102.56 L101.33,102.01 L100.81,101.46 L100.31,100.91 L99.84,100.35 L99.4,99.79 L98.99,99.23 L98.61,98.66 L98.25,98.1 L97.93,97.53 L97.64,96.95 L97.38,96.38 L97.15,95.8 L96.95,95.22 L96.78,94.65 L96.65,94.07 L96.54,93.48 L96.46,92.9 L96.42,92.32 L96.4,91.74 Z" fill="#ecb8f4"/>
<path d="M96.4,93.28 L96.42,93.86 L96.46,94.44 L96.54,95.02 L96.65,95.6 L96.78,96.18 L96.95,96.76 L97.15,97.34 L97.38,97.92 L97.64,98.49 L97.93,99.06 L98.25,99.63 L98.61,100.2 L98.99,100.77 L99.4,101.33 L99.84,101.89 L100.31,102.45 L100.81,103 L101.33,103.55 L101.89,104.09 L102.48,104.63 L103.09,105.17 L103.73,105.7 L104.4,106.23 L105.1,106.75 L105.83,107.27 L106.58,107.78 L107.36,108.29 L108.17,108.79 L109,109.29 L109.86,109.78 L110.74,110.26 L111.65,110.74 L112.59,111.21 L113.55,111.67 L114.53,112.13 L115.54,112.58 L116.57,113.02 L117.62,113.46 L118.7,113.88 L119.8,114.3 L119.8,115.35 L118.7,114.93 L117.62,114.51 L116.57,114.07 L115.54,113.63 L114.53,113.18 L113.55,112.72 L112.59,112.26 L111.65,111.79 L110.74,111.31 L109.86,110.83 L109,110.34 L108.17,109.84 L107.36,109.34 L106.58,108.83 L105.83,108.32 L105.1,107.8 L104.4,107.28 L103.73,106.75 L103.09,106.22 L102.48,105.68 L101.89,105.14 L101.33,104.6 L100.81,104.05 L100.31,103.5 L99.84,102.94 L99.4,102.38 L98.99,101.82 L98.61,101.25 L98.25,100.68 L97.93,100.11 L97.64,99.54 L97.38,98.97 L97.15,98.39 L96.95,97.81 L96.78,97.23 L96.65,96.65 L96.54,96.07 L96.46,95.49 L96.42,94.91 L96.4,94.33 Z" fill="#ecb8f4"/>
<path d="M96.4,95.86 L96.42,96.44 L96.46,97.03 L96.54,97.61 L96.65,98.19 L96.78,98.77 L96.95,99.35 L97.15,99.93 L97.38,100.5 L97.64,101.08 L97.93,101.65 L98.25,102.22 L98.61,102.79 L98.99,103.35 L99.4,103.92 L99.84,104.48 L100.31,105.03 L100.81,105.59 L101.33,106.14 L101.89,106.68 L102.48,107.22 L103.09,107.76 L103.73,108.29 L104.4,108.82 L105.1,109.34 L105.83,109.86 L106.58,110.37 L107.36,110.88 L108.17,111.38 L109,111.88 L109.86,112.37 L110.74,112.85 L111.65,113.33 L112.59,113.8 L113.55,114.26 L114.53,114.72 L115.54,115.17 L116.57,115.61 L117.62,116.04 L118.7,116.47 L119.8,116.89 L119.8,117.94 L118.7,117.52 L117.62,117.09 L116.57,116.66 L115.54,116.22 L114.53,115.77 L113.55,115.31 L112.59,114.85 L111.65,114.38 L110.74,113.9 L109.86,113.42 L109,112.93 L108.17,112.43 L107.36,111.93 L106.58,111.42 L105.83,110.91 L105.1,110.39 L104.4,109.87 L103.73,109.34 L103.09,108.81 L102.48,108.27 L101.89,107.73 L101.33,107.19 L100.81,106.64 L100.31,106.08 L99.84,105.53 L99.4,104.97 L98.99,104.4 L98.61,103.84 L98.25,103.27 L97.93,102.7 L97.64,102.13 L97.38,101.55 L97.15,100.98 L96.95,100.4 L96.78,99.82 L96.65,99.24 L96.54,98.66 L96.46,98.08 L96.42,97.49 L96.4,96.91 Z" fill="#ecb8f4"/>
<path d="M96.4,98.45 L96.42,99.03 L96.46,99.61 L96.54,100.2 L96.65,100.78 L96.78,101.36 L96.95,101.94 L97.15,102.51 L97.38,103.09 L97.64,103.67 L97.93,104.24 L98.25,104.81 L98.61,105.38 L98.99,105.94 L99.4,106.5 L99.84,107.06 L100.31,107.62 L100.81,108.17 L101.33,108.72 L101.89,109.27 L102.48,109.81 L103.09,110.35 L103.73,110.88 L104.4,111.41 L105.1,111.93 L105.83,112.45 L106.58,112.96 L107.36,113.47 L108.17,113.97 L109,114.46 L109.86,114.95 L110.74,115.44 L111.65,115.91 L112.59,116.38 L113.55,116.85 L114.53,117.3 L115.54,117.75 L116.57,118.2 L117.62,118.63 L118.7,119.06 L119.8,119.48 L119.8,120.53 L118.7,120.11 L117.62,119.68 L116.57,119.25 L115.54,118.8 L114.53,118.35 L113.55,117.9 L112.59,117.43 L111.65,116.96 L110.74,116.49 L109.86,116 L109,115.51 L108.17,115.02 L107.36,114.52 L106.58,114.01 L105.83,113.5 L105.1,112.98 L104.4,112.46 L103.73,111.93 L103.09,111.4 L102.48,110.86 L101.89,110.32 L101.33,109.77 L100.81,109.22 L100.31,108.67 L99.84,108.11 L99.4,107.55 L98.99,106.99 L98.61,106.43 L98.25,105.86 L97.93,105.29 L97.64,104.72 L97.38,104.14 L97.15,103.56 L96.95,102.99 L96.78,102.41 L96.65,101.83 L96.54,101.25 L96.46,100.66 L96.42,100.08 L96.4,99.5 Z" fill="#ecb8f4"/>
<path d="M96.4,99.5 L96.42,100.08 L96.46,100.66 L96.54,101.25 L96.65,101.83 L96.78,102.41 L96.95,102.99 L97.15,103.56 L97.38,104.14 L97.64,104.72 L97.93,105.29 L98.25,105.86 L98.61,106.43 L98.99,106.99 L99.4,107.55 L99.84,108.11 L100.31,108.67 L100.81,109.22 L101.33,109.77 L101.89,110.32 L102.48,110.86 L103.09,111.4 L103.73,111.93 L104.4,112.46 L105.1,112.98 L105.83,113.5 L106.58,114.01 L107.36,114.52 L108.17,115.02 L109,115.51 L109.86,116 L110.74,116.49 L111.65,116.96 L112.59,117.43 L113.55,117.9 L114.53,118.35 L115.54,118.8 L116.57,119.25 L117.62,119.68 L118.7,120.11 L119.8,120.53 L119.8,134.23 L118.7,133.81 L117.62,133.38 L116.57,132.95 L115.54,132.5 L114.53,132.05 L113.55,131.6 L112.59,131.13 L111.65,130.66 L110.74,130.19 L109.86,129.7 L109,129.21 L108.17,128.72 L107.36,128.22 L106.58,127.71 L105.83,127.2 L105.1,126.68 L104.4,126.16 L103.73,125.63 L103.09,125.1 L102.48,124.56 L101.89,124.02 L101.33,123.47 L100.81,122.92 L100.31,122.37 L99.84,121.81 L99.4,121.25 L98.99,120.69 L98.61,120.13 L98.25,119.56 L97.93,118.99 L97.64,118.42 L97.38,117.84 L97.15,117.26 L96.95,116.69 L96.78,116.11 L96.65,115.53 L96.54,114.95 L96.46,114.36 L96.42,113.78 L96.4,113.2 Z" fill="#c8c8c8"/>
<path d="M178,67.3 L119.8,89.23 L119.8,101.03 L178,78.68 Z" fill="#5275f4"/>
<path d="M178,67.49 L119.8,89.43 L119.8,90.48 L178,68.51 Z" fill="#ecb8f4"/>
<path d="M178,70.04 L119.8,92.06 L119.8,93.11 L178,71.05 Z" fill="#ecb8f4"/>
<path d="M178,72.58 L119.8,94.7 L119.8,95.75 L178,73.59 Z" fill="#ecb8f4"/>
<path d="M178,75.12 L119.8,97.34 L119.8,98.39 L178,76.14 Z" fill="#ecb8f4"/>
<path d="M178,77.67 L119.8,99.98 L119.8,101.03 L178,78.68 Z" fill="#ecb8f4"/>
<path d="M178,78.68 L119.8,101.03 L119.8,106.13 L178,83.6 Z" fill="#6a6a6a"/>
<path d="M178,78.68 L166.5,83.1 L166.5,88.05 L178,83.6 Z" fill="#dedede"/>
<path d="M178,83.6 L119.8,106.13 L119.8,108.03 L178,85.43 Z" fill="#e82222"/>
<path d="M178,85.43 L119.8,108.03 L119.8,120.53 L178,97.49 Z" fill="#5275f4"/>
<path d="M178,86.49 L119.8,109.13 L119.8,110.18 L178,87.51 Z" fill="#ecb8f4"/>
<path d="M178,88.99 L119.8,111.71 L119.8,112.76 L178,90 Z" fill="#ecb8f4"/>
<path d="M178,91.48 L119.8,114.3 L119.8,115.35 L178,92.5 Z" fill="#ecb8f4"/>
<path d="M178,93.98 L119.8,116.89 L119.8,117.94 L178,94.99 Z" fill="#ecb8f4"/>
<path d="M178,96.47 L119.8,119.48 L119.8,120.53 L178,97.49 Z" fill="#ecb8f4"/>
<path d="M178,97.49 L119.8,120.53 L119.8,134.23 L178,110.7 Z" fill="#c8c8c8"/>
<path d="M178,67.3 L240.96,87.28 L240.96,99.08 L178,78.68 Z" fill="#5275f4"/>
<path d="M178,67.49 L240.96,87.48 L240.96,88.53 L178,68.51 Z" fill="#ecb8f4"/>
<path d="M178,70.04 L240.96,90.12 L240.96,91.17 L178,71.05 Z" fill="#ecb8f4"/>
<path d="M178,72.58 L240.96,92.76 L240.96,93.81 L178,73.59 Z" fill="#ecb8f4"/>
<path d="M178,75.12 L240.96,95.39 L240.96,96.44 L178,76.14 Z" fill="#ecb8f4"/>
<path d="M178,77.67 L240.96,98.03 L240.96,99.08 L178,78.68 Z" fill="#ecb8f4"/>
<path d="M178,78.68 L240.96,99.08 L240.96,104.18 L178,83.6 Z" fill="#6a6a6a"/>
<path d="M178,78.68 L189.8,82.5 L189.8,87.46 L178,83.6 Z" fill="#dedede"/>
<path d="M178,83.6 L240.96,104.18 L240.96,106.08 L178,85.43 Z" fill="#e82222"/>
<path d="M178,85.43 L240.96,106.08 L240.96,118.58 L178,97.49 Z" fill="#5275f4"/>
<path d="M178,86.49 L240.96,107.18 L240.96,108.23 L178,87.51 Z" fill="#ecb8f4"/>
<path d="M178,88.99 L240.96,109.77 L240.96,110.82 L178,90 Z" fill="#ecb8f4"/>
<path d="M178,91.48 L240.96,112.36 L240.96,113.41 L178,92.5 Z" fill="#ecb8f4"/>
<path d="M178,93.98 L240.96,114.94 L240.96,115.99 L178,94.99 Z" fill="#ecb8f4"/>
<path d="M178,96.47 L240.96,117.53 L240.96,118.58 L178,97.49 Z" fill="#ecb8f4"/>
<path d="M178,97.49 L240.96,118.58 L240.96,132.28 L178,110.7 Z" fill="#c8c8c8"/>
<clipPath id="topclip"><path d="M119.8,89.23 L117.65,88.39 L115.58,87.52 L113.61,86.63 L111.73,85.71 L109.95,84.76 L108.28,83.79 L106.7,82.79 L105.23,81.77 L103.87,80.74 L102.61,79.68 L101.47,78.61 L100.44,77.52 L99.52,76.42 L98.72,75.31 L98.04,74.18 L97.47,73.05 L97.03,71.91 L96.7,70.76 L96.49,69.61 L96.4,68.46 L96.44,67.31 L96.59,66.16 L96.86,65.01 L97.25,63.87 L97.77,62.73 L98.4,61.6 L99.14,60.49 L100.01,59.38 L100.99,58.28 L102.08,57.2 L103.28,56.14 L104.6,55.1 L106.02,54.07 L107.55,53.06 L109.18,52.08 L110.91,51.12 L112.75,50.19 L114.67,49.28 L116.7,48.4 L118.81,47.55 L121.01,46.73 L123.29,45.94 L125.66,45.19 L128.1,44.46 L130.61,43.78 L133.2,43.13 L135.85,42.51 L138.56,41.94 L141.34,41.4 L144.16,40.9 L147.04,40.44 L149.96,40.03 L152.92,39.65 L155.92,39.32 L158.95,39.03 L162.01,38.78 L165.09,38.58 L168.2,38.42 L171.31,38.3 L174.44,38.23 L177.57,38.2 L180.71,38.22 L183.83,38.28 L186.95,38.38 L190.06,38.53 L193.15,38.72 L196.22,38.96 L199.26,39.24 L202.27,39.56 L205.24,39.92 L208.17,40.33 L211.06,40.77 L213.9,41.26 L216.69,41.79 L219.42,42.35 L222.08,42.95 L224.69,43.6 L227.22,44.27 L229.68,44.98 L232.07,45.73 L234.38,46.51 L236.6,47.32 L238.74,48.17 L240.78,49.04 L242.74,49.94 L244.6,50.86 L246.36,51.82 L248.02,52.79 L249.58,53.79 L251.03,54.81 L252.37,55.85 L253.6,56.91 L254.73,57.99 L255.74,59.08 L256.63,60.18 L257.41,61.3 L258.07,62.42 L258.62,63.56 L259.04,64.7 L259.35,65.85 L259.53,67 L259.6,68.15 L259.55,69.3 L259.37,70.45 L259.08,71.6 L258.66,72.74 L258.13,73.87 L257.48,75 L256.71,76.12 L255.82,77.22 L254.82,78.31 L253.71,79.39 L252.49,80.45 L251.15,81.49 L249.71,82.51 L248.16,83.52 L246.51,84.5 L244.76,85.45 L242.91,86.38 L240.96,87.28 L178,67.3 Z"/></clipPath>
<path d="M119.8,89.23 L117.65,88.39 L115.58,87.52 L113.61,86.63 L111.73,85.71 L109.95,84.76 L108.28,83.79 L106.7,82.79 L105.23,81.77 L103.87,80.74 L102.61,79.68 L101.47,78.61 L100.44,77.52 L99.52,76.42 L98.72,75.31 L98.04,74.18 L97.47,73.05 L97.03,71.91 L96.7,70.76 L96.49,69.61 L96.4,68.46 L96.44,67.31 L96.59,66.16 L96.86,65.01 L97.25,63.87 L97.77,62.73 L98.4,61.6 L99.14,60.49 L100.01,59.38 L100.99,58.28 L102.08,57.2 L103.28,56.14 L104.6,55.1 L106.02,54.07 L107.55,53.06 L109.18,52.08 L110.91,51.12 L112.75,50.19 L114.67,49.28 L116.7,48.4 L118.81,47.55 L121.01,46.73 L123.29,45.94 L125.66,45.19 L128.1,44.46 L130.61,43.78 L133.2,43.13 L135.85,42.51 L138.56,41.94 L141.34,41.4 L144.16,40.9 L147.04,40.44 L149.96,40.03 L152.92,39.65 L155.92,39.32 L158.95,39.03 L162.01,38.78 L165.09,38.58 L168.2,38.42 L171.31,38.3 L174.44,38.23 L177.57,38.2 L180.71,38.22 L183.83,38.28 L186.95,38.38 L190.06,38.53 L193.15,38.72 L196.22,38.96 L199.26,39.24 L202.27,39.56 L205.24,39.92 L208.17,40.33 L211.06,40.77 L213.9,41.26 L216.69,41.79 L219.42,42.35 L222.08,42.95 L224.69,43.6 L227.22,44.27 L229.68,44.98 L232.07,45.73 L234.38,46.51 L236.6,47.32 L238.74,48.17 L240.78,49.04 L242.74,49.94 L244.6,50.86 L246.36,51.82 L248.02,52.79 L249.58,53.79 L251.03,54.81 L252.37,55.85 L253.6,56.91 L254.73,57.99 L255.74,59.08 L256.63,60.18 L257.41,61.3 L258.07,62.42 L258.62,63.56 L259.04,64.7 L259.35,65.85 L259.53,67 L259.6,68.15 L259.55,69.3 L259.37,70.45 L259.08,71.6 L258.66,72.74 L258.13,73.87 L257.48,75 L256.71,76.12 L255.82,77.22 L254.82,78.31 L253.71,79.39 L252.49,80.45 L251.15,81.49 L249.71,82.51 L248.16,83.52 L246.51,84.5 L244.76,85.45 L242.91,86.38 L240.96,87.28 L178,67.3 Z" fill="#4f7ef8"/>
<g clip-path="url(#topclip)"><path fill-rule="evenodd" fill="#f9a23e" d="M136.7,66.3 a40.9,15 0 1,0 81.8,0 a40.9,15 0 1,0 -81.8,0 Z M148.7,66.3 a28.9,10.4 0 1,0 57.8,0 a28.9,10.4 0 1,0 -57.8,0 Z"/></g>
<path d="M96.4,113.2 L96.42,113.78 L96.46,114.36 L96.54,114.95 L96.65,115.53 L96.78,116.11 L96.95,116.69 L97.15,117.26 L97.38,117.84 L97.64,118.42 L97.93,118.99 L98.25,119.56 L98.61,120.13 L98.99,120.69 L99.4,121.25 L99.84,121.81 L100.31,122.37 L100.81,122.92 L101.33,123.47 L101.89,124.02 L102.48,124.56 L103.09,125.1 L103.73,125.63 L104.4,126.16 L105.1,126.68 L105.83,127.2 L106.58,127.71 L107.36,128.22 L108.17,128.72 L109,129.21 L109.86,129.7 L110.74,130.19 L111.65,130.66 L112.59,131.13 L113.55,131.6 L114.53,132.05 L115.54,132.5 L116.57,132.95 L117.62,133.38 L118.7,133.81 L119.8,134.23 L119.8,134.23 L178,110.7 L240.96,132.28 L240.96,132.28 L241.85,131.88 L242.72,131.47 L243.56,131.06 L244.39,130.64 L245.2,130.22 L245.99,129.79 L246.75,129.36 L247.5,128.92 L248.23,128.48 L248.93,128.03 L249.62,127.58 L250.28,127.12 L250.92,126.66 L251.54,126.2 L252.14,125.73 L252.72,125.26 L253.27,124.78 L253.8,124.3 L254.31,123.82 L254.8,123.34 L255.26,122.85 L255.7,122.36 L256.12,121.86 L256.52,121.37 L256.89,120.87 L257.24,120.37 L257.56,119.87 L257.86,119.36 L258.14,118.85 L258.39,118.34 L258.62,117.83 L258.83,117.32 L259.01,116.81 L259.16,116.3 L259.3,115.78 L259.41,115.27 L259.49,114.75 L259.55,114.23 L259.59,113.72 L259.6,113.2" fill="none" stroke="#f8a23c" stroke-width="1.1"/>
</g>
<path d="M119.8,134.23 V157" stroke="#6e6e6e" stroke-width="1" stroke-dasharray="6,4" fill="none"/>
<path d="M240.96,132.28 V157" stroke="#6e6e6e" stroke-width="1" stroke-dasharray="6,4" fill="none"/>
<path d="M166.5,88 V138" stroke="#6e6e6e" stroke-width="1" stroke-dasharray="6,4" fill="none"/>
<path d="M189.8,88 V138" stroke="#6e6e6e" stroke-width="1" stroke-dasharray="6,4" fill="none"/>
<path d="M119.8,108.03 V134.23" stroke="#6e6e6e" stroke-width="1" stroke-dasharray="6,4" fill="none"/>
<path d="M240.96,99.08 V132.28" stroke="#6e6e6e" stroke-width="1" stroke-dasharray="6,4" fill="none"/>
<path d="M85.1,53.2 L91.3,93.5 H96" stroke="#6e6e6e" stroke-width="1" stroke-dasharray="6,4" fill="none"/>
<path d="M84.2,90.7 L91.5,112.3 H112" stroke="#6e6e6e" stroke-width="1" stroke-dasharray="6,4" fill="none"/>
<path d="M85.2,123.2 H111" stroke="#6e6e6e" stroke-width="1" stroke-dasharray="6,4" fill="none"/>
<path d="M214,66 H258" stroke="#6e6e6e" stroke-width="1" stroke-dasharray="6,4" fill="none"/>
<path d="M261,66 H264 Q266,66 266.4,63.5 L266.8,61.5 M267.8,57.5 L269,52.5" stroke="#6e6e6e" stroke-width="1" stroke-dasharray="6,4" fill="none"/>
<path d="M246,94.1 H258" stroke="#6e6e6e" stroke-width="1" stroke-dasharray="6,4" fill="none"/>
<path d="M261.5,94.1 H264.5 Q266.6,94.1 266.9,91.5 L267.3,89.5 M268.3,85.5 L269.4,81.7" stroke="#6e6e6e" stroke-width="1" stroke-dasharray="6,4" fill="none"/>
<path d="M254,104.3 H260 M263.8,104.3 H265.5 Q268,104.3 269,107.5" stroke="#6e6e6e" stroke-width="1" stroke-dasharray="6,4" fill="none"/>
<path d="M241.6,130.3 H258.5 M262.5,130.3 H265 Q267.6,130.3 267.8,132.5 M268.2,136.3 L268.4,139" stroke="#6e6e6e" stroke-width="1" stroke-dasharray="6,4" fill="none"/>
<path d="M167,113.8 H189.3" stroke="#707070" stroke-width="0.8" stroke-dasharray="2.5,2" fill="none"/>
<path d="M167,113.8 l3,-1.4 v2.8 Z M189.3,113.8 l-3,-1.4 v2.8 Z" fill="#707070"/>
<path d="M114.5,106.8 V110.4 Q114.5,111.8 112.2,112.3 Q114.5,112.8 114.5,114.2 V119.4" stroke="#111" stroke-width="1.2" fill="none"/>
<path d="M241.6,88.1 V92.4 Q241.6,93.8 244,94.3 Q241.6,94.8 241.6,96.2 V101.1" stroke="#111" stroke-width="1.2" fill="none"/>
<path d="M119.4,157 H166.4 V138.5 H189.7 V157 H241.5" stroke="#111" stroke-width="1.3" fill="none"/>
<text x="-0.9" y="7" font-size="9.5" text-anchor="start" font-weight="bold" fill="#000" >a</text>
<text x="84.2" y="41.1" font-size="9.3" text-anchor="end" font-weight="normal" fill="#1a1a1a" stroke="#1a1a1a" stroke-width="0.22" >Oxidized</text>
<text x="83.7" y="51.8" font-size="9.3" text-anchor="end" font-weight="normal" fill="#1a1a1a" stroke="#1a1a1a" stroke-width="0.22" >layer</text>
<text x="82.4" y="88" font-size="9.3" text-anchor="end" font-weight="normal" fill="#1a1a1a" stroke="#1a1a1a" stroke-width="0.22" >n-DBR</text>
<text x="81.5" y="123" font-size="9.3" text-anchor="end" font-weight="normal" fill="#1a1a1a" stroke="#1a1a1a" stroke-width="0.22" >Substrate</text>
<text x="111.1" y="157.8" font-size="9.45" text-anchor="end" font-weight="normal" fill="#1a1a1a" stroke="#1a1a1a" stroke-width="0.22" >Refractive index</text>
<text x="270.7" y="46.8" font-size="9.3" text-anchor="start" font-weight="normal" fill="#1a1a1a" stroke="#1a1a1a" stroke-width="0.22" >p-electrode</text>
<text x="272.3" y="78.4" font-size="9.3" text-anchor="start" font-weight="normal" fill="#1a1a1a" stroke="#1a1a1a" stroke-width="0.22" >p-DBR</text>
<text x="273.6" y="110.5" font-size="9.3" text-anchor="start" font-weight="normal" fill="#1a1a1a" stroke="#1a1a1a" stroke-width="0.22" >Active layer</text>
<text x="271" y="141.5" font-size="9.3" text-anchor="start" font-weight="normal" fill="#1a1a1a" stroke="#1a1a1a" stroke-width="0.22" >n-electrode</text>
<text x="143.3" y="153.5" font-size="9.2" text-anchor="middle" font-weight="normal" fill="#1a1a1a" stroke="#1a1a1a" stroke-width="0.22" >n<tspan font-size="5.2" dy="0.3">2</tspan></text>
<text x="177.4" y="147.8" font-size="9.2" text-anchor="middle" font-weight="normal" fill="#1a1a1a" stroke="#1a1a1a" stroke-width="0.22" >n<tspan font-size="5.2" dy="0.3">1</tspan></text>
<text x="177.7" y="109.2" font-size="9.3" text-anchor="middle" font-weight="normal" fill="#1a1a1a" stroke="#1a1a1a" stroke-width="0.22" >d</text>
<text x="359.4" y="6.6" font-size="9.5" text-anchor="start" font-weight="bold" fill="#000" >b</text>
<path d="M429.5,140.67 L433.36,130.82 L437.22,121.11 L441.08,111.95 L444.93,103.52 L448.79,95.86 L452.65,88.96 L456.5,82.75 L460.36,77.18 L464.22,72.19 L468.08,67.7 L471.93,63.66 L475.79,60.02 L479.65,56.73 L483.5,53.74 L487.36,51.03 L491.22,48.57 L495.08,46.32 L498.93,44.26 L502.79,42.38 L506.65,40.65 L510.5,39.05 L514.36,37.58 L518.22,36.22 L522.08,34.97 L525.93,33.8 L529.79,32.72 L533.65,31.71 L537.51,30.77 L541.36,29.89 L545.22,29.07 L549.08,28.3 L552.93,27.58 L556.79,26.9 L560.65,26.27 L564.51,25.67 L568.36,25.1 L572.22,24.57 L576.08,24.07 L579.93,23.59 L583.79,23.14 L587.65,22.72 L591.51,22.32 L595.36,21.93 L599.22,21.57 L603.08,21.22 L606.93,20.89 L610.79,20.58 L614.65,20.28 L618.51,20 L622.36,19.73 L626.22,19.47 L630.08,19.22 L633.93,18.98 L637.79,18.76 L641.65,18.54 L645.51,18.33 L649.36,18.13 L653.22,17.94 L657.08,17.76" stroke="#0808ff" stroke-width="1.6" fill="none" stroke-linecap="round"/>
<path d="M461.93,155.14 L465.23,148.6 L468.54,141.94 L471.85,135.39 L475.16,129.08 L478.46,123.07 L481.77,117.39 L485.08,112.04 L488.39,107.01 L491.69,102.3 L495,97.89 L498.31,93.76 L501.62,89.89 L504.92,86.26 L508.23,82.87 L511.54,79.68 L514.85,76.7 L518.16,73.89 L521.46,71.26 L524.77,68.78 L528.08,66.44 L531.39,64.24 L534.69,62.17 L538,60.21 L541.31,58.36 L544.62,56.6 L547.92,54.95 L551.23,53.38 L554.54,51.89 L557.85,50.48 L561.16,49.13 L564.46,47.86 L567.77,46.65 L571.08,45.49 L574.39,44.39 L577.69,43.34 L581,42.34 L584.31,41.39 L587.62,40.47 L590.92,39.6 L594.23,38.77 L597.54,37.97 L600.85,37.21 L604.15,36.47 L607.46,35.77 L610.77,35.1 L614.08,34.45 L617.39,33.83 L620.69,33.23 L624,32.66 L627.31,32.11 L630.62,31.58 L633.92,31.06 L637.23,30.57 L640.54,30.1 L643.85,29.64 L647.15,29.2 L650.46,28.77 L653.77,28.36 L657.08,27.97" stroke="#1c1cff" stroke-width="1.6" fill="none" stroke-linecap="round"/>
<path d="M494.56,159.11 L497.31,154.25 L500.06,149.42 L502.82,144.69 L505.57,140.1 L508.33,135.67 L511.08,131.4 L513.84,127.3 L516.59,123.37 L519.35,119.61 L522.1,116.01 L524.86,112.56 L527.61,109.26 L530.37,106.11 L533.12,103.09 L535.87,100.21 L538.63,97.45 L541.38,94.81 L544.14,92.28 L546.89,89.85 L549.65,87.53 L552.4,85.31 L555.16,83.18 L557.91,81.13 L560.67,79.17 L563.42,77.29 L566.18,75.48 L568.93,73.74 L571.68,72.07 L574.44,70.47 L577.19,68.92 L579.95,67.44 L582.7,66 L585.46,64.63 L588.21,63.3 L590.97,62.02 L593.72,60.78 L596.48,59.59 L599.23,58.44 L601.99,57.33 L604.74,56.26 L607.49,55.23 L610.25,54.23 L613,53.26 L615.76,52.33 L618.51,51.42 L621.27,50.54 L624.02,49.7 L626.78,48.88 L629.53,48.08 L632.29,47.31 L635.04,46.56 L637.8,45.84 L640.55,45.14 L643.3,44.45 L646.06,43.79 L648.81,43.15 L651.57,42.53 L654.32,41.92 L657.08,41.33" stroke="#3131ff" stroke-width="1.6" fill="none" stroke-linecap="round"/>
<path d="M527.18,158.85 L529.39,155.39 L531.59,151.99 L533.79,148.68 L535.99,145.45 L538.19,142.3 L540.39,139.24 L542.6,136.26 L544.8,133.38 L547,130.58 L549.2,127.86 L551.4,125.22 L553.6,122.66 L555.81,120.18 L558.01,117.77 L560.21,115.44 L562.41,113.17 L564.61,110.98 L566.81,108.84 L569.01,106.78 L571.22,104.77 L573.42,102.82 L575.62,100.93 L577.82,99.1 L580.02,97.32 L582.22,95.59 L584.43,93.91 L586.63,92.27 L588.83,90.69 L591.03,89.15 L593.23,87.65 L595.43,86.19 L597.64,84.77 L599.84,83.39 L602.04,82.05 L604.24,80.74 L606.44,79.47 L608.64,78.24 L610.84,77.03 L613.05,75.86 L615.25,74.72 L617.45,73.6 L619.65,72.52 L621.85,71.46 L624.05,70.43 L626.26,69.43 L628.46,68.45 L630.66,67.49 L632.86,66.56 L635.06,65.65 L637.26,64.76 L639.46,63.89 L641.67,63.05 L643.87,62.22 L646.07,61.41 L648.27,60.62 L650.47,59.85 L652.67,59.1 L654.88,58.37 L657.08,57.65" stroke="#4545ff" stroke-width="1.6" fill="none" stroke-linecap="round"/>
<path d="M559.82,156.8 L561.46,154.53 L563.11,152.31 L564.76,150.13 L566.41,147.99 L568.06,145.89 L569.71,143.84 L571.35,141.82 L573,139.84 L574.65,137.9 L576.3,136 L577.95,134.14 L579.6,132.31 L581.25,130.53 L582.89,128.78 L584.54,127.06 L586.19,125.38 L587.84,123.73 L589.49,122.11 L591.14,120.53 L592.79,118.98 L594.43,117.46 L596.08,115.97 L597.73,114.5 L599.38,113.07 L601.03,111.67 L602.68,110.29 L604.32,108.94 L605.97,107.62 L607.62,106.32 L609.27,105.05 L610.92,103.8 L612.57,102.57 L614.22,101.37 L615.86,100.19 L617.51,99.04 L619.16,97.9 L620.81,96.79 L622.46,95.69 L624.11,94.62 L625.76,93.57 L627.4,92.53 L629.05,91.52 L630.7,90.52 L632.35,89.54 L634,88.58 L635.65,87.64 L637.3,86.71 L638.94,85.8 L640.59,84.9 L642.24,84.02 L643.89,83.16 L645.54,82.31 L647.19,81.48 L648.83,80.66 L650.48,79.85 L652.13,79.06 L653.78,78.28 L655.43,77.51 L657.08,76.76" stroke="#5a5aff" stroke-width="1.6" fill="none" stroke-linecap="round"/>
<path d="M587.42,160.39 L588.61,158.9 L589.79,157.43 L590.97,155.98 L592.15,154.55 L593.33,153.14 L594.51,151.74 L595.69,150.36 L596.87,149 L598.05,147.66 L599.23,146.34 L600.41,145.03 L601.59,143.74 L602.77,142.46 L603.95,141.2 L605.13,139.96 L606.31,138.74 L607.49,137.53 L608.67,136.34 L609.86,135.16 L611.04,134 L612.22,132.85 L613.4,131.72 L614.58,130.6 L615.76,129.5 L616.94,128.41 L618.12,127.33 L619.3,126.27 L620.48,125.23 L621.66,124.19 L622.84,123.17 L624.02,122.17 L625.2,121.17 L626.38,120.19 L627.56,119.22 L628.74,118.27 L629.92,117.32 L631.11,116.39 L632.29,115.47 L633.47,114.56 L634.65,113.66 L635.83,112.77 L637.01,111.9 L638.19,111.03 L639.37,110.18 L640.55,109.33 L641.73,108.5 L642.91,107.68 L644.09,106.86 L645.27,106.06 L646.45,105.27 L647.63,104.48 L648.81,103.71 L649.99,102.95 L651.17,102.19 L652.36,101.44 L653.54,100.71 L654.72,99.98 L655.9,99.26 L657.08,98.54" stroke="#6e6eff" stroke-width="1.6" fill="none" stroke-linecap="round"/>
<path d="M615.66,161.91 L616.36,161.1 L617.07,160.3 L617.77,159.5 L618.47,158.71 L619.17,157.93 L619.87,157.15 L620.58,156.38 L621.28,155.61 L621.98,154.85 L622.68,154.09 L623.38,153.34 L624.09,152.59 L624.79,151.85 L625.49,151.11 L626.19,150.38 L626.89,149.66 L627.6,148.94 L628.3,148.22 L629,147.51 L629.7,146.81 L630.4,146.11 L631.11,145.41 L631.81,144.72 L632.51,144.03 L633.21,143.35 L633.91,142.68 L634.62,142.01 L635.32,141.34 L636.02,140.68 L636.72,140.03 L637.42,139.37 L638.12,138.73 L638.83,138.08 L639.53,137.45 L640.23,136.81 L640.93,136.18 L641.63,135.56 L642.34,134.94 L643.04,134.32 L643.74,133.71 L644.44,133.11 L645.14,132.5 L645.85,131.91 L646.55,131.31 L647.25,130.72 L647.95,130.14 L648.65,129.55 L649.36,128.98 L650.06,128.4 L650.76,127.83 L651.46,127.27 L652.16,126.7 L652.87,126.15 L653.57,125.59 L654.27,125.04 L654.97,124.5 L655.67,123.95 L656.38,123.41 L657.08,122.88" stroke="#8383ff" stroke-width="1.6" fill="none" stroke-linecap="round"/>
<path d="M648.08,158.36 L648.24,158.21 L648.39,158.05 L648.54,157.9 L648.69,157.74 L648.85,157.59 L649,157.44 L649.15,157.29 L649.3,157.13 L649.46,156.98 L649.61,156.83 L649.76,156.68 L649.91,156.52 L650.07,156.37 L650.22,156.22 L650.37,156.07 L650.52,155.92 L650.67,155.77 L650.83,155.62 L650.98,155.47 L651.13,155.32 L651.28,155.17 L651.44,155.02 L651.59,154.87 L651.74,154.72 L651.89,154.57 L652.05,154.42 L652.2,154.27 L652.35,154.12 L652.5,153.97 L652.66,153.83 L652.81,153.68 L652.96,153.53 L653.11,153.38 L653.27,153.24 L653.42,153.09 L653.57,152.94 L653.72,152.79 L653.88,152.65 L654.03,152.5 L654.18,152.36 L654.33,152.21 L654.49,152.07 L654.64,151.92 L654.79,151.77 L654.94,151.63 L655.1,151.49 L655.25,151.34 L655.4,151.2 L655.55,151.05 L655.71,150.91 L655.86,150.76 L656.01,150.62 L656.16,150.48 L656.32,150.34 L656.47,150.19 L656.62,150.05 L656.77,149.91 L656.93,149.77 L657.08,149.62" stroke="#9797ff" stroke-width="1.6" fill="none" stroke-linecap="round"/>
<rect x="418.0" y="11.1" width="251.0" height="152.5" fill="none" stroke="#111" stroke-width="1.5"/>
<path d="M418,133.1 h3" stroke="#222" stroke-width="1"/>
<path d="M418,102.6 h3" stroke="#222" stroke-width="1"/>
<path d="M418,72.1 h3" stroke="#222" stroke-width="1"/>
<path d="M418,41.6 h3" stroke="#222" stroke-width="1"/>
<text x="413.5" y="166.5" font-size="8.1" text-anchor="end" font-weight="normal" fill="#222" stroke="#222" stroke-width="0.22" >0.0</text>
<text x="413.5" y="136" font-size="8.1" text-anchor="end" font-weight="normal" fill="#222" stroke="#222" stroke-width="0.22" >0.2</text>
<text x="413.5" y="105.5" font-size="8.1" text-anchor="end" font-weight="normal" fill="#222" stroke="#222" stroke-width="0.22" >0.4</text>
<text x="413.5" y="75" font-size="8.1" text-anchor="end" font-weight="normal" fill="#222" stroke="#222" stroke-width="0.22" >0.6</text>
<text x="413.5" y="44.5" font-size="8.1" text-anchor="end" font-weight="normal" fill="#222" stroke="#222" stroke-width="0.22" >0.8</text>
<text x="413.5" y="14" font-size="8.1" text-anchor="end" font-weight="normal" fill="#222" stroke="#222" stroke-width="0.22" >1.0</text>
<path d="M438.92,163.6 v-3" stroke="#222" stroke-width="1"/>
<text x="438.92" y="174.6" font-size="8.1" text-anchor="middle" font-weight="normal" fill="#222" stroke="#222" stroke-width="0.22" >2</text>
<path d="M480.75,163.6 v-3" stroke="#222" stroke-width="1"/>
<text x="480.75" y="174.6" font-size="8.1" text-anchor="middle" font-weight="normal" fill="#222" stroke="#222" stroke-width="0.22" >4</text>
<path d="M522.58,163.6 v-3" stroke="#222" stroke-width="1"/>
<text x="522.58" y="174.6" font-size="8.1" text-anchor="middle" font-weight="normal" fill="#222" stroke="#222" stroke-width="0.22" >6</text>
<path d="M564.42,163.6 v-3" stroke="#222" stroke-width="1"/>
<text x="564.42" y="174.6" font-size="8.1" text-anchor="middle" font-weight="normal" fill="#222" stroke="#222" stroke-width="0.22" >8</text>
<path d="M606.25,163.6 v-3" stroke="#222" stroke-width="1"/>
<text x="606.25" y="174.6" font-size="8.1" text-anchor="middle" font-weight="normal" fill="#222" stroke="#222" stroke-width="0.22" >10</text>
<path d="M648.08,163.6 v-3" stroke="#222" stroke-width="1"/>
<text x="648.08" y="174.6" font-size="8.1" text-anchor="middle" font-weight="normal" fill="#222" stroke="#222" stroke-width="0.22" >12</text>
<text x="543.5" y="184.1" font-size="9.2" text-anchor="middle" font-weight="normal" fill="#1a1a1a" stroke="#1a1a1a" stroke-width="0.22" >Diameter (μm)</text>
<text x="0" y="0" font-size="9.4" text-anchor="middle" font-weight="normal" fill="#1a1a1a" stroke="#1a1a1a" stroke-width="0.22" transform="translate(394.7,78.9) rotate(-90)">Normalized porpagation constant</text>
<text x="508.7" y="29.2" font-size="8.1" text-anchor="start" font-weight="normal" fill="#1a1a1a" stroke="#1a1a1a" stroke-width="0.22" >LP<tspan font-size="5" dy="1.1">01</tspan></text>
<text x="530.6" y="47.6" font-size="8.1" text-anchor="start" font-weight="normal" fill="#1a1a1a" stroke="#1a1a1a" stroke-width="0.22" >LP<tspan font-size="5" dy="1.1">11</tspan></text>
<text x="551.7" y="66.4" font-size="8.1" text-anchor="start" font-weight="normal" fill="#1a1a1a" stroke="#1a1a1a" stroke-width="0.22" >LP<tspan font-size="5" dy="1.1">21</tspan></text>
<text x="571.3" y="85.4" font-size="8.1" text-anchor="start" font-weight="normal" fill="#1a1a1a" stroke="#1a1a1a" stroke-width="0.22" >LP<tspan font-size="5" dy="1.1">31</tspan></text>
<text x="589" y="103.4" font-size="8.1" text-anchor="start" font-weight="normal" fill="#1a1a1a" stroke="#1a1a1a" stroke-width="0.22" >LP<tspan font-size="5" dy="1.1">41</tspan></text>
<text x="606.9" y="117.1" font-size="8.1" text-anchor="start" font-weight="normal" fill="#1a1a1a" stroke="#1a1a1a" stroke-width="0.22" >LP<tspan font-size="5" dy="1.1">51</tspan></text>
<text x="622.9" y="133.4" font-size="8.1" text-anchor="start" font-weight="normal" fill="#1a1a1a" stroke="#1a1a1a" stroke-width="0.22" >LP<tspan font-size="5" dy="1.1">61</tspan></text>
<text x="638.2" y="148.4" font-size="8.1" text-anchor="start" font-weight="normal" fill="#1a1a1a" stroke="#1a1a1a" stroke-width="0.22" >LP<tspan font-size="5" dy="1.1">71</tspan></text>
<text x="-0.6" y="187.5" font-size="9.5" text-anchor="start" font-weight="bold" fill="#000" >c</text>
<text x="29.5" y="219.6" font-size="9.45" text-anchor="start" font-weight="normal" fill="#1a1a1a" stroke="#1a1a1a" stroke-width="0.22" >Average current density (x10<tspan font-size="5.4" dy="-2.7">8</tspan><tspan dy="2.7"> A/m</tspan><tspan font-size="5.4" dy="-2.7">2</tspan><tspan dy="2.7">)</tspan></text>
<text x="55.6" y="232.7" font-size="9.3" text-anchor="middle" font-weight="normal" fill="#1a1a1a" stroke="#1a1a1a" stroke-width="0.22" >≈1.0</text>
<text x="103.6" y="232.7" font-size="9.3" text-anchor="middle" font-weight="normal" fill="#1a1a1a" stroke="#1a1a1a" stroke-width="0.22" >≈2.3</text>
<text x="151.2" y="232.7" font-size="9.3" text-anchor="middle" font-weight="normal" fill="#1a1a1a" stroke="#1a1a1a" stroke-width="0.22" >≈4.6</text>
<defs>
<radialGradient id="g00"><stop offset="0" stop-color="#eef526"/><stop offset="0.75" stop-color="#f1ef25"/><stop offset="0.9" stop-color="#f5dc28"/><stop offset="0.96" stop-color="#f0a83a"/><stop offset="1" stop-color="#b0307a"/></radialGradient>
<radialGradient id="g01"><stop offset="0" stop-color="#f7d02a"/><stop offset="0.6" stop-color="#f6d82a"/><stop offset="0.86" stop-color="#f4e426"/><stop offset="0.95" stop-color="#f0b036"/><stop offset="1" stop-color="#b0307a"/></radialGradient>
<radialGradient id="g02"><stop offset="0" stop-color="#f6a03e"/><stop offset="0.55" stop-color="#f7b236"/><stop offset="0.86" stop-color="#f4dc2a"/><stop offset="0.95" stop-color="#f0b036"/><stop offset="1" stop-color="#b0307a"/></radialGradient>
<radialGradient id="g10"><stop offset="0" stop-color="#f6dc28"/><stop offset="0.6" stop-color="#f6de28"/><stop offset="0.88" stop-color="#f4e826"/><stop offset="0.96" stop-color="#f0b834"/><stop offset="1" stop-color="#b0307a"/></radialGradient>
<radialGradient id="g11"><stop offset="0" stop-color="#f6a83a"/><stop offset="0.5" stop-color="#f7b236"/><stop offset="0.78" stop-color="#f6c830"/><stop offset="0.91" stop-color="#f4e428"/><stop offset="0.97" stop-color="#f0b834"/><stop offset="1" stop-color="#b0307a"/></radialGradient>
<radialGradient id="g12"><stop offset="0" stop-color="#ef8e55"/><stop offset="0.5" stop-color="#f29a4a"/><stop offset="0.78" stop-color="#f6b83a"/><stop offset="0.91" stop-color="#f4e228"/><stop offset="0.97" stop-color="#f0b834"/><stop offset="1" stop-color="#b0307a"/></radialGradient>
<radialGradient id="g20"><stop offset="0" stop-color="#f8be30"/><stop offset="0.55" stop-color="#f8c630"/><stop offset="0.92" stop-color="#f4e626"/><stop offset="0.98" stop-color="#f0d02e"/><stop offset="1" stop-color="#c04070"/></radialGradient>
<radialGradient id="g21"><stop offset="0" stop-color="#f4a040"/><stop offset="0.55" stop-color="#f5a83c"/><stop offset="0.8" stop-color="#f6c232"/><stop offset="0.93" stop-color="#f2e626"/><stop offset="0.98" stop-color="#f0d02e"/><stop offset="1" stop-color="#c04070"/></radialGradient>
<radialGradient id="g22"><stop offset="0" stop-color="#e87868"/><stop offset="0.5" stop-color="#ea7e60"/><stop offset="0.75" stop-color="#f0a048"/><stop offset="0.88" stop-color="#f6cc30"/><stop offset="0.95" stop-color="#f2e626"/><stop offset="0.985" stop-color="#f0d02e"/><stop offset="1" stop-color="#c04070"/></radialGradient>
<linearGradient id="cbar" x1="0" y1="1" x2="0" y2="0"><stop offset="0" stop-color="#0d0887"/><stop offset="0.25" stop-color="#7e03a8"/><stop offset="0.5" stop-color="#cc4778"/><stop offset="0.75" stop-color="#f89540"/><stop offset="1" stop-color="#f0f921"/></linearGradient>
<linearGradient id="cyl" x1="0" y1="0" x2="0" y2="1"><stop offset="0" stop-color="#f4ea26"/><stop offset="0.15" stop-color="#f9c72c"/><stop offset="0.45" stop-color="#f08a4c"/><stop offset="0.65" stop-color="#cf4a78"/><stop offset="0.82" stop-color="#9414a0"/><stop offset="1" stop-color="#2a0a90"/></linearGradient>
<radialGradient id="cyltop"><stop offset="0" stop-color="#f9a33a"/><stop offset="0.7" stop-color="#fbb534"/><stop offset="1" stop-color="#f6d82a"/></radialGradient>
</defs>
<circle cx="56" cy="256.8" r="20.2" fill="#1c0f8a"/>
<circle cx="56" cy="256.8" r="15.2" fill="url(#g00)" stroke="#6a1a9a" stroke-width="0.7"/>
<circle cx="103.6" cy="256.8" r="20.2" fill="#1c0f8a"/>
<circle cx="103.6" cy="256.8" r="15.2" fill="url(#g01)" stroke="#6a1a9a" stroke-width="0.7"/>
<circle cx="151.3" cy="256.8" r="20.2" fill="#1c0f8a"/>
<circle cx="151.3" cy="256.8" r="15.2" fill="url(#g02)" stroke="#6a1a9a" stroke-width="0.7"/>
<circle cx="56" cy="301.4" r="20.2" fill="#1c0f8a"/>
<circle cx="56" cy="301.4" r="17.3" fill="url(#g10)" stroke="#6a1a9a" stroke-width="0.7"/>
<circle cx="103.6" cy="301.4" r="20.2" fill="#1c0f8a"/>
<circle cx="103.6" cy="301.4" r="17.3" fill="url(#g11)" stroke="#6a1a9a" stroke-width="0.7"/>
<circle cx="151.3" cy="301.4" r="20.2" fill="#1c0f8a"/>
<circle cx="151.3" cy="301.4" r="17.3" fill="url(#g12)" stroke="#6a1a9a" stroke-width="0.7"/>
<circle cx="56" cy="345.5" r="20.2" fill="#1c0f8a"/>
<circle cx="56" cy="345.5" r="19.0" fill="url(#g20)" stroke="#6a1a9a" stroke-width="0.7"/>
<circle cx="103.6" cy="345.5" r="20.2" fill="#1c0f8a"/>
<circle cx="103.6" cy="345.5" r="19.0" fill="url(#g21)" stroke="#6a1a9a" stroke-width="0.7"/>
<circle cx="151.3" cy="345.5" r="20.2" fill="#1c0f8a"/>
<circle cx="151.3" cy="345.5" r="19.0" fill="url(#g22)" stroke="#6a1a9a" stroke-width="0.7"/>
<text x="0" y="0" font-size="9.3" text-anchor="middle" font-weight="normal" fill="#1a1a1a" stroke="#1a1a1a" stroke-width="0.22" transform="translate(31.4,252.2) rotate(-90)">4</text>
<text x="0" y="0" font-size="9.3" text-anchor="middle" font-weight="normal" fill="#1a1a1a" stroke="#1a1a1a" stroke-width="0.22" transform="translate(31.4,301.3) rotate(-90)">6</text>
<text x="0" y="0" font-size="9.3" text-anchor="middle" font-weight="normal" fill="#1a1a1a" stroke="#1a1a1a" stroke-width="0.22" transform="translate(31.4,345.3) rotate(-90)">8</text>
<text x="0" y="0" font-size="9.3" text-anchor="middle" font-weight="normal" fill="#1a1a1a" stroke="#1a1a1a" stroke-width="0.22" transform="translate(18.4,301.4) rotate(-90)">Diameter d (μm)</text>
<rect x="175" y="283" width="6" height="37" fill="url(#cbar)" stroke="#222" stroke-width="0.6"/>
<text x="183" y="288.2" font-size="7.2" text-anchor="start" font-weight="normal" fill="#1a1a1a" stroke="#1a1a1a" stroke-width="0.22" >1</text>
<text x="183" y="320.2" font-size="7.2" text-anchor="start" font-weight="normal" fill="#1a1a1a" stroke="#1a1a1a" stroke-width="0.22" >0</text>
<rect x="190.2" y="225.5" width="162.4" height="142" fill="none" stroke="#8c8c8c" stroke-width="1.1" stroke-dasharray="6,4.8"/>
<path d="M190.4,226.3 L158,281 M190.4,367.5 L157.7,320.8" stroke="#8c8c8c" stroke-width="1.1" stroke-dasharray="6,4.8" fill="none"/>
<circle cx="151.3" cy="301.4" r="20.6" fill="none" stroke="#8a8a8a" stroke-width="0.8"/>
<path d="M221.2,322 L283,294.3 L344.9,322 L282.2,351 Z" fill="#1a1290"/>
<defs><linearGradient id="cylg" gradientUnits="userSpaceOnUse" x1="0" y1="250" x2="0" y2="337"><stop offset="0.000" stop-color="#f3e828"/><stop offset="0.092" stop-color="#f4e02a"/><stop offset="0.172" stop-color="#f8c030"/><stop offset="0.264" stop-color="#f5a040"/><stop offset="0.379" stop-color="#ea7a58"/><stop offset="0.494" stop-color="#d2507a"/><stop offset="0.598" stop-color="#b03494"/><stop offset="0.690" stop-color="#8a18a8"/><stop offset="0.805" stop-color="#5c0ca8"/><stop offset="1.000" stop-color="#2a0c96"/></linearGradient><linearGradient id="cyltopg" x1="0" y1="0" x2="0" y2="1"><stop offset="0" stop-color="#f6d830"/><stop offset="0.35" stop-color="#f8bc34"/><stop offset="0.75" stop-color="#f7a03c"/><stop offset="1" stop-color="#f49244"/></linearGradient><radialGradient id="flare" cx="0.5" cy="0.5" r="0.5"><stop offset="0" stop-color="#5a0aa8"/><stop offset="0.6" stop-color="#3a0c9a" stop-opacity="0.8"/><stop offset="1" stop-color="#1a1290" stop-opacity="0"/></radialGradient></defs>
<ellipse cx="283" cy="325" rx="37" ry="16" fill="url(#flare)"/>
<path d="M254.7,250 L254.3,314 Q254,321 251.6,324 A31.4,13.2 0 0,0 314.4,324 Q312,321 311.7,314 L311.3,250 Z" fill="url(#cylg)"/>
<ellipse cx="283" cy="250" rx="28.3" ry="12.3" fill="#f2ec26"/>
<ellipse cx="283.4" cy="251.9" rx="26.6" ry="11.1" fill="url(#cyltopg)"/>
<path d="M221.2,322 L282.2,351 L344.9,322" stroke="#111" stroke-width="1.1" fill="none"/>
<path d="M221.2,322 V238" stroke="#111" stroke-width="1.1"/>
<path d="M221.2,231.6 l-2.6,7.2 h5.2 Z" fill="#111"/>
<path d="M221.2,322 h3.5" stroke="#111" stroke-width="0.9"/>
<text x="218" y="324.9" font-size="8.0" text-anchor="end" font-weight="normal" fill="#222" stroke="#222" stroke-width="0.22" >0.0</text>
<path d="M221.2,304.1 h3.5" stroke="#111" stroke-width="0.9"/>
<text x="218" y="307" font-size="8.0" text-anchor="end" font-weight="normal" fill="#222" stroke="#222" stroke-width="0.22" >1.5</text>
<path d="M221.2,286.2 h3.5" stroke="#111" stroke-width="0.9"/>
<text x="218" y="289.1" font-size="8.0" text-anchor="end" font-weight="normal" fill="#222" stroke="#222" stroke-width="0.22" >3.0</text>
<path d="M221.2,268.3 h3.5" stroke="#111" stroke-width="0.9"/>
<text x="218" y="271.2" font-size="8.0" text-anchor="end" font-weight="normal" fill="#222" stroke="#222" stroke-width="0.22" >4.5</text>
<path d="M221.2,250.4 h3.5" stroke="#111" stroke-width="0.9"/>
<text x="218" y="253.3" font-size="8.0" text-anchor="end" font-weight="normal" fill="#222" stroke="#222" stroke-width="0.22" >6.0</text>
<text x="226.8" y="238.8" font-size="7.8" text-anchor="start" font-weight="normal" fill="#222" stroke="#222" stroke-width="0.22" >x10<tspan font-size="4.8" dy="-2.4">8</tspan></text>
<text x="0" y="0" font-size="9.5" text-anchor="middle" font-weight="normal" fill="#1a1a1a" stroke="#1a1a1a" stroke-width="0.22" transform="translate(200.6,283.6) rotate(-90)">Current density (A/m<tspan font-size="5.4" dy="-2.7">2</tspan><tspan dy="2.7">)</tspan></text>
<text x="0" y="0" font-size="7.6" text-anchor="middle" font-weight="normal" fill="#1a1a1a" stroke="#1a1a1a" stroke-width="0.22" transform="translate(219,330.5) rotate(25)">0</text>
<text x="0" y="0" font-size="7.6" text-anchor="middle" font-weight="normal" fill="#1a1a1a" stroke="#1a1a1a" stroke-width="0.22" transform="translate(248.1,346) rotate(25)">3</text>
<text x="0" y="0" font-size="7.6" text-anchor="middle" font-weight="normal" fill="#1a1a1a" stroke="#1a1a1a" stroke-width="0.22" transform="translate(282.2,360) rotate(0)">6</text>
<text x="0" y="0" font-size="8.6" text-anchor="middle" font-weight="normal" fill="#1a1a1a" stroke="#1a1a1a" stroke-width="0.22" transform="translate(241.5,355) rotate(25)">x (μm)</text>
<text x="0" y="0" font-size="7.6" text-anchor="middle" font-weight="normal" fill="#1a1a1a" stroke="#1a1a1a" stroke-width="0.22" transform="translate(347.3,330.5) rotate(-25)">0</text>
<text x="0" y="0" font-size="7.6" text-anchor="middle" font-weight="normal" fill="#1a1a1a" stroke="#1a1a1a" stroke-width="0.22" transform="translate(317.4,346) rotate(-25)">3</text>
<text x="0" y="0" font-size="8.6" text-anchor="middle" font-weight="normal" fill="#1a1a1a" stroke="#1a1a1a" stroke-width="0.22" transform="translate(322.5,356) rotate(-25)">y (μm)</text>
<text x="359.1" y="192.2" font-size="9.5" text-anchor="start" font-weight="bold" fill="#000" >d</text>
<rect x="407" y="198.2" width="69" height="40.3" fill="#fdeef2"/>
<rect x="400.7" y="196.0" width="283.40000000000003" height="167.89999999999998" fill="none" stroke="#111" stroke-width="1.5"/>
<path d="M400.7,330.32 h3" stroke="#222" stroke-width="1"/>
<path d="M400.7,296.74 h3" stroke="#222" stroke-width="1"/>
<path d="M400.7,263.16 h3" stroke="#222" stroke-width="1"/>
<path d="M400.7,229.58 h3" stroke="#222" stroke-width="1"/>
<text x="396.5" y="366.8" font-size="8.1" text-anchor="end" font-weight="normal" fill="#222" stroke="#222" stroke-width="0.22" >0.0</text>
<text x="396.5" y="333.22" font-size="8.1" text-anchor="end" font-weight="normal" fill="#222" stroke="#222" stroke-width="0.22" >0.2</text>
<text x="396.5" y="299.64" font-size="8.1" text-anchor="end" font-weight="normal" fill="#222" stroke="#222" stroke-width="0.22" >0.4</text>
<text x="396.5" y="266.06" font-size="8.1" text-anchor="end" font-weight="normal" fill="#222" stroke="#222" stroke-width="0.22" >0.6</text>
<text x="396.5" y="232.48" font-size="8.1" text-anchor="end" font-weight="normal" fill="#222" stroke="#222" stroke-width="0.22" >0.8</text>
<text x="396.5" y="198.9" font-size="8.1" text-anchor="end" font-weight="normal" fill="#222" stroke="#222" stroke-width="0.22" >1.0</text>
<text x="400.5" y="375.5" font-size="8.1" text-anchor="middle" font-weight="normal" fill="#222" stroke="#222" stroke-width="0.22" >0</text>
<path d="M425.19,363.9 v-3" stroke="#222" stroke-width="1"/>
<text x="425.19" y="375.5" font-size="8.1" text-anchor="middle" font-weight="normal" fill="#222" stroke="#222" stroke-width="0.22" >1</text>
<path d="M449.88,363.9 v-3" stroke="#222" stroke-width="1"/>
<text x="449.88" y="375.5" font-size="8.1" text-anchor="middle" font-weight="normal" fill="#222" stroke="#222" stroke-width="0.22" >2</text>
<path d="M474.57,363.9 v-3" stroke="#222" stroke-width="1"/>
<text x="474.57" y="375.5" font-size="8.1" text-anchor="middle" font-weight="normal" fill="#222" stroke="#222" stroke-width="0.22" >3</text>
<path d="M499.26,363.9 v-3" stroke="#222" stroke-width="1"/>
<text x="499.26" y="375.5" font-size="8.1" text-anchor="middle" font-weight="normal" fill="#222" stroke="#222" stroke-width="0.22" >4</text>
<path d="M523.95,363.9 v-3" stroke="#222" stroke-width="1"/>
<text x="523.95" y="375.5" font-size="8.1" text-anchor="middle" font-weight="normal" fill="#222" stroke="#222" stroke-width="0.22" >5</text>
<path d="M548.64,363.9 v-3" stroke="#222" stroke-width="1"/>
<text x="548.64" y="375.5" font-size="8.1" text-anchor="middle" font-weight="normal" fill="#222" stroke="#222" stroke-width="0.22" >6</text>
<path d="M573.33,363.9 v-3" stroke="#222" stroke-width="1"/>
<text x="573.33" y="375.5" font-size="8.1" text-anchor="middle" font-weight="normal" fill="#222" stroke="#222" stroke-width="0.22" >7</text>
<path d="M598.02,363.9 v-3" stroke="#222" stroke-width="1"/>
<text x="598.02" y="375.5" font-size="8.1" text-anchor="middle" font-weight="normal" fill="#222" stroke="#222" stroke-width="0.22" >8</text>
<path d="M622.71,363.9 v-3" stroke="#222" stroke-width="1"/>
<text x="622.71" y="375.5" font-size="8.1" text-anchor="middle" font-weight="normal" fill="#222" stroke="#222" stroke-width="0.22" >9</text>
<path d="M647.4,363.9 v-3" stroke="#222" stroke-width="1"/>
<text x="647.4" y="375.5" font-size="8.1" text-anchor="middle" font-weight="normal" fill="#222" stroke="#222" stroke-width="0.22" >10</text>
<path d="M672.09,363.9 v-3" stroke="#222" stroke-width="1"/>
<text x="672.09" y="375.5" font-size="8.1" text-anchor="middle" font-weight="normal" fill="#222" stroke="#222" stroke-width="0.22" >11</text>
<text x="542.5" y="385" font-size="9.4" text-anchor="middle" font-weight="normal" fill="#1a1a1a" stroke="#1a1a1a" stroke-width="0.22" >Current (mA)</text>
<text x="0" y="0" font-size="9.3" text-anchor="middle" font-weight="normal" fill="#1a1a1a" stroke="#1a1a1a" stroke-width="0.22" transform="translate(379.2,279.5) rotate(-90)">Normalized intensity</text>
<path d="M429.7,361.4 L467.7,298.1 L668.7,208" stroke="#e6521f" stroke-width="1.7" stroke-dasharray="3,2.2" fill="none"/>
<path d="M468.9,363.9 L668.8,199.5" stroke="#1a86d8" stroke-width="1.6" fill="none"/>
<rect x="424.4" y="358.2" width="6" height="6" fill="#1880d8"/>
<rect x="451.1" y="354.5" width="6" height="6" fill="#1880d8"/>
<rect x="477.8" y="348" width="6" height="6" fill="#1880d8"/>
<rect x="517.8" y="341.8" width="6" height="6" fill="#1880d8"/>
<rect x="580.5" y="308.7" width="6" height="6" fill="#1880d8"/>
<rect x="620.4" y="247.2" width="6" height="6" fill="#1880d8"/>
<rect x="638.5" y="231.7" width="6" height="6" fill="#1880d8"/>
<rect x="647.5" y="203" width="6" height="6" fill="#1880d8"/>
<rect x="661" y="197.9" width="6" height="6" fill="#1880d8"/>
<circle cx="427.4" cy="338" r="3.3" fill="#e0521e"/>
<circle cx="454.1" cy="305.5" r="3.3" fill="#e0521e"/>
<circle cx="480.8" cy="273.2" r="3.3" fill="#e0521e"/>
<circle cx="521.3" cy="248.2" r="3.3" fill="#e0521e"/>
<circle cx="583.3" cy="219.2" r="3.3" fill="#e0521e"/>
<circle cx="623.4" cy="211.2" r="3.3" fill="#e0521e"/>
<circle cx="641.5" cy="212" r="3.3" fill="#e0521e"/>
<circle cx="650.5" cy="214.6" r="3.3" fill="#e0521e"/>
<circle cx="664" cy="233.4" r="3.3" fill="#e0521e"/>
<rect x="636.2" y="215.3" width="15.7" height="9" fill="none" stroke="#e82020" stroke-width="1" stroke-dasharray="2,1.5"/>
<text x="431.4" y="205" font-size="8.1" text-anchor="middle" font-weight="normal" fill="#1a1a1a" stroke="#1a1a1a" stroke-width="0.22" >d=6μm</text>
<circle cx="418.8" cy="213.5" r="3.3" fill="#e0521e"/>
<rect x="440.6" y="210.5" width="6" height="6" fill="#1880d8"/>
<text x="457.5" y="216.4" font-size="8.1" text-anchor="start" font-weight="normal" fill="#1a1a1a" stroke="#1a1a1a" stroke-width="0.22" >Exp.</text>
<path d="M410,223.4 H428" stroke="#e4572a" stroke-width="1.2" stroke-dasharray="2.5,1.6"/>
<path d="M435.4,223.4 H451.9" stroke="#1a86d8" stroke-width="1.4"/>
<text x="457.5" y="226.3" font-size="8.1" text-anchor="start" font-weight="normal" fill="#1a1a1a" stroke="#1a1a1a" stroke-width="0.22" >Sim.</text>
<text x="418.4" y="236.2" font-size="8.1" text-anchor="middle" font-weight="normal" fill="#1a1a1a" stroke="#1a1a1a" stroke-width="0.22" ><tspan font-style="italic">l</tspan>=1</text>
<text x="443.8" y="236.2" font-size="8.1" text-anchor="middle" font-weight="normal" fill="#1a1a1a" stroke="#1a1a1a" stroke-width="0.22" ><tspan font-style="italic">l</tspan>=2</text>
<rect x="603.5" y="281.5" width="79" height="48" fill="#fff" stroke="#f02828" stroke-width="1"/>
<clipPath id="insclip"><rect x="603.2" y="281.2" width="79.1" height="47.9"/></clipPath>
<g clip-path="url(#insclip)">
<path d="M603.2,323.7 L682.3,292.3" stroke="#e4572a" stroke-width="1.5" stroke-dasharray="3,2.2" fill="none"/>
<path d="M614.9,329.1 L680.7,281.6" stroke="#1a86d8" stroke-width="1.6" fill="none"/>
</g>
<path d="M643.5,302.2 L645.03,305.9 L649.02,306.21 L645.97,308.8 L646.91,312.69 L643.5,310.6 L640.09,312.69 L641.03,308.8 L637.98,306.21 L641.97,305.9 Z" fill="#f7a818"/>
<text x="600.6" y="283.2" font-size="6.8" text-anchor="end" font-weight="normal" fill="#333" stroke="#333" stroke-width="0.22" >0.890</text>
<text x="600.6" y="308" font-size="6.8" text-anchor="end" font-weight="normal" fill="#333" stroke="#333" stroke-width="0.22" >0.865</text>
<text x="600.6" y="331.2" font-size="6.8" text-anchor="end" font-weight="normal" fill="#333" stroke="#333" stroke-width="0.22" >0.840</text>
<text x="611" y="337.8" font-size="6.8" text-anchor="middle" font-weight="normal" fill="#333" stroke="#333" stroke-width="0.22" >9.65</text>
<text x="642.4" y="337.8" font-size="6.8" text-anchor="middle" font-weight="normal" fill="#333" stroke="#333" stroke-width="0.22" >9.85</text>
<text x="674" y="337.8" font-size="6.8" text-anchor="middle" font-weight="normal" fill="#333" stroke="#333" stroke-width="0.22" >10.05</text>
<path d="M603.5,305.5 h2.5 M611.8,329.5 v-2.5 M642.6,329.5 v-2.5 M674.4,329.5 v-2.5" stroke="#f02828" stroke-width="0.8"/>
</svg>
</body></html>
